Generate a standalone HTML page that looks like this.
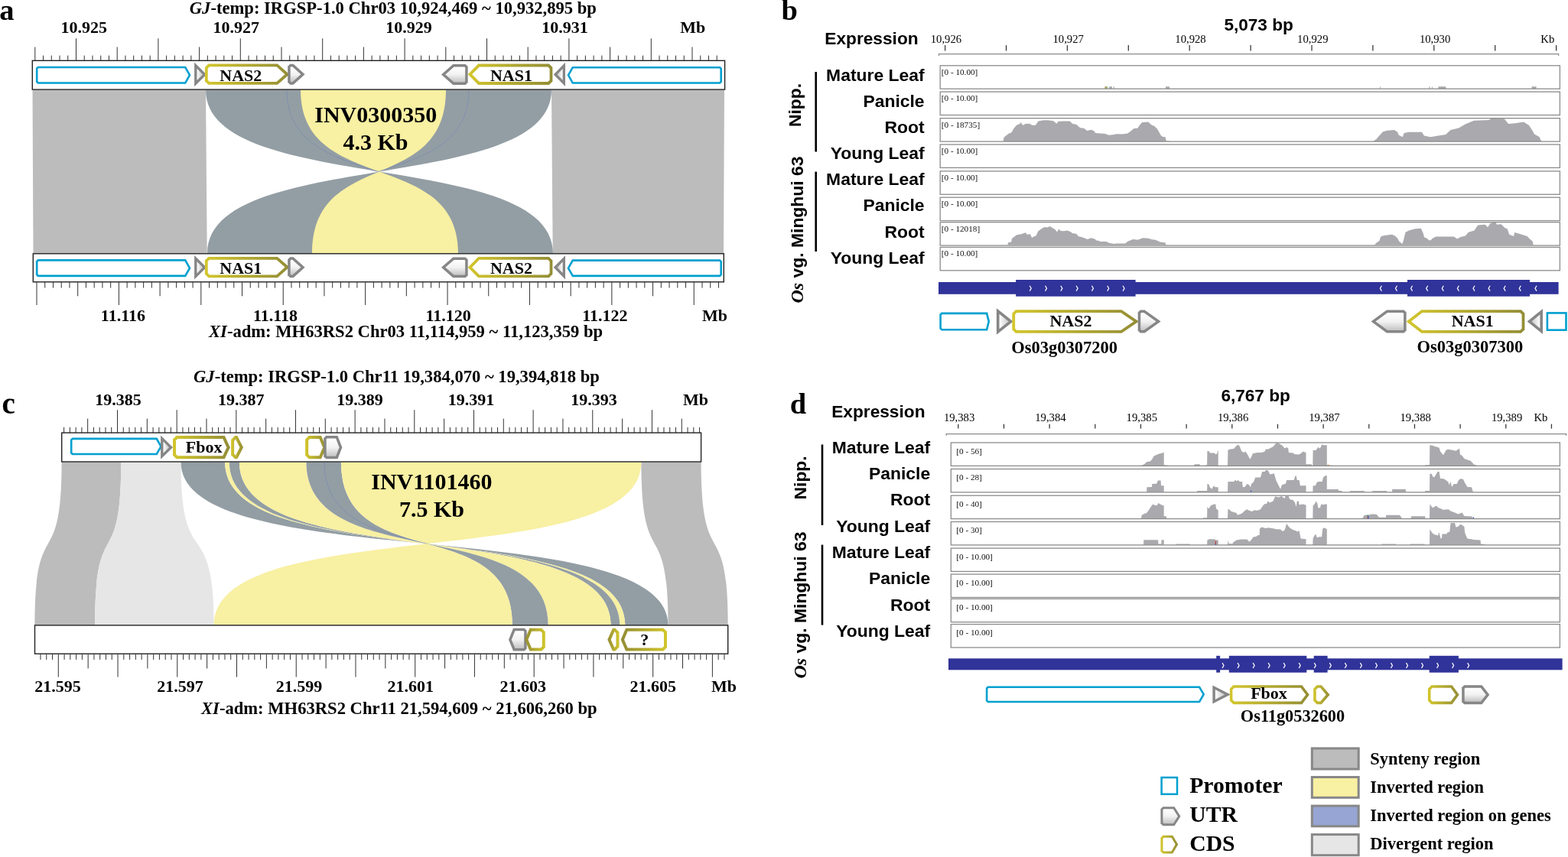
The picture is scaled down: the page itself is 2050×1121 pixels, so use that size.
<!DOCTYPE html>
<html><head><meta charset="utf-8"><title>Figure</title><style>html,body{margin:0;padding:0;background:#fff;overflow:hidden}svg{display:block}</style></head><body>
<svg width="2050" height="1121" viewBox="0 0 2050 1121">
<defs>
<linearGradient id="gC" x1="0" y1="0" x2="1" y2="0"><stop offset="0" stop-color="#d3c62c"/><stop offset="1" stop-color="#938d36"/></linearGradient>
<linearGradient id="gCL" x1="0" y1="0" x2="1" y2="0"><stop offset="0" stop-color="#d3c62c"/><stop offset="1" stop-color="#938d36"/></linearGradient>
<linearGradient id="gCR" x1="0" y1="0" x2="1" y2="0"><stop offset="0" stop-color="#938d36"/><stop offset="1" stop-color="#d3c62c"/></linearGradient>
<linearGradient id="gCRL" x1="0" y1="0" x2="1" y2="0"><stop offset="0" stop-color="#938d36"/><stop offset="1" stop-color="#d3c62c"/></linearGradient>
<linearGradient id="gTr" x1="0" y1="0" x2="1" y2="0"><stop offset="0" stop-color="#ffffff"/><stop offset="1" stop-color="#c8c8c8"/></linearGradient>
<linearGradient id="gTl" x1="1" y1="0" x2="0" y2="0"><stop offset="0" stop-color="#ffffff"/><stop offset="1" stop-color="#c8c8c8"/></linearGradient>
<linearGradient id="gV" x1="0" y1="0" x2="0" y2="1"><stop offset="0" stop-color="#ffffff"/><stop offset="0.5" stop-color="#f2f2f2"/><stop offset="1" stop-color="#c4c4c4"/></linearGradient>
</defs>
<rect x="0.00" y="0.00" width="2050.00" height="1121.00" fill="#fff" stroke="none" stroke-width="1" />
<text x="-0.8" y="25.6" font-family="'Liberation Serif','Times New Roman',serif" font-size="38.5" font-weight="bold" text-anchor="start" fill="#000" >a</text>
<text x="247.8" y="17.8" font-family="'Liberation Serif','Times New Roman',serif" font-size="22.6" font-weight="bold" text-anchor="start" fill="#000" ><tspan font-style="italic">GJ</tspan>-temp: IRGSP-1.0 Chr03 10,924,469 ~ 10,932,895 bp</text>
<text x="109.8" y="42.7" font-family="'Liberation Serif','Times New Roman',serif" font-size="22" font-weight="bold" text-anchor="middle" fill="#000" >10.925</text>
<text x="308.8" y="42.7" font-family="'Liberation Serif','Times New Roman',serif" font-size="22" font-weight="bold" text-anchor="middle" fill="#000" >10.927</text>
<text x="534.4" y="42.7" font-family="'Liberation Serif','Times New Roman',serif" font-size="22" font-weight="bold" text-anchor="middle" fill="#000" >10.929</text>
<text x="738.4" y="42.7" font-family="'Liberation Serif','Times New Roman',serif" font-size="22" font-weight="bold" text-anchor="middle" fill="#000" >10.931</text>
<text x="905.7" y="42.7" font-family="'Liberation Serif','Times New Roman',serif" font-size="22" font-weight="bold" text-anchor="middle" fill="#000" >Mb</text>
<polygon points="42.50,117.50 269.00,117.50 270.70,331.50 43.50,331.50" fill="#bcbcbc" stroke="none" stroke-width="1" />
<polygon points="721.00,117.50 947.00,117.50 946.00,331.50 722.70,331.50" fill="#bcbcbc" stroke="none" stroke-width="1" />
<path d="M269.00,117.5 L721.00,117.5 C721.00,256.60 271.00,192.40 271.00,331.5 L723.00,331.5 C723.00,192.40 269.00,256.60 269.00,117.5 Z" fill="#939ea4" />
<path d="M393.00,117.5 L583.00,117.5 C583.00,256.60 408.00,192.40 408.00,331.5 L599.00,331.5 C599.00,192.40 393.00,256.60 393.00,117.5 Z" fill="#f8f0a2" />
<path d="M375.00,117.50 C375.00,187.05 434.50,205.78 494.00,224.50" fill="none" stroke="#6f82b8" stroke-width="0.7" opacity="0.75"/>
<path d="M613.00,117.50 C613.00,187.05 553.50,205.78 494.00,224.50" fill="none" stroke="#6f82b8" stroke-width="0.7" opacity="0.75"/>
<text x="491.3" y="160.0" font-family="'Liberation Serif','Times New Roman',serif" font-size="30" font-weight="bold" text-anchor="middle" fill="#000" >INV0300350</text>
<text x="491.0" y="196.0" font-family="'Liberation Serif','Times New Roman',serif" font-size="30" font-weight="bold" text-anchor="middle" fill="#000" >4.3 Kb</text>
<line x1="45.80" y1="79.20" x2="45.80" y2="61.50" stroke="#333" stroke-width="1.0"/>
<line x1="56.54" y1="79.20" x2="56.54" y2="72.60" stroke="#333" stroke-width="1.0"/>
<line x1="67.28" y1="79.20" x2="67.28" y2="72.60" stroke="#333" stroke-width="1.0"/>
<line x1="78.02" y1="79.20" x2="78.02" y2="72.60" stroke="#333" stroke-width="1.0"/>
<line x1="88.76" y1="79.20" x2="88.76" y2="72.60" stroke="#333" stroke-width="1.0"/>
<line x1="99.50" y1="79.20" x2="99.50" y2="50.30" stroke="#333" stroke-width="1.0"/>
<line x1="110.24" y1="79.20" x2="110.24" y2="72.60" stroke="#333" stroke-width="1.0"/>
<line x1="120.98" y1="79.20" x2="120.98" y2="72.60" stroke="#333" stroke-width="1.0"/>
<line x1="131.72" y1="79.20" x2="131.72" y2="72.60" stroke="#333" stroke-width="1.0"/>
<line x1="142.46" y1="79.20" x2="142.46" y2="72.60" stroke="#333" stroke-width="1.0"/>
<line x1="153.20" y1="79.20" x2="153.20" y2="61.50" stroke="#333" stroke-width="1.0"/>
<line x1="163.94" y1="79.20" x2="163.94" y2="72.60" stroke="#333" stroke-width="1.0"/>
<line x1="174.68" y1="79.20" x2="174.68" y2="72.60" stroke="#333" stroke-width="1.0"/>
<line x1="185.42" y1="79.20" x2="185.42" y2="72.60" stroke="#333" stroke-width="1.0"/>
<line x1="196.16" y1="79.20" x2="196.16" y2="72.60" stroke="#333" stroke-width="1.0"/>
<line x1="206.90" y1="79.20" x2="206.90" y2="50.30" stroke="#333" stroke-width="1.0"/>
<line x1="217.64" y1="79.20" x2="217.64" y2="72.60" stroke="#333" stroke-width="1.0"/>
<line x1="228.38" y1="79.20" x2="228.38" y2="72.60" stroke="#333" stroke-width="1.0"/>
<line x1="239.12" y1="79.20" x2="239.12" y2="72.60" stroke="#333" stroke-width="1.0"/>
<line x1="249.86" y1="79.20" x2="249.86" y2="72.60" stroke="#333" stroke-width="1.0"/>
<line x1="260.60" y1="79.20" x2="260.60" y2="61.50" stroke="#333" stroke-width="1.0"/>
<line x1="271.34" y1="79.20" x2="271.34" y2="72.60" stroke="#333" stroke-width="1.0"/>
<line x1="282.08" y1="79.20" x2="282.08" y2="72.60" stroke="#333" stroke-width="1.0"/>
<line x1="292.82" y1="79.20" x2="292.82" y2="72.60" stroke="#333" stroke-width="1.0"/>
<line x1="303.56" y1="79.20" x2="303.56" y2="72.60" stroke="#333" stroke-width="1.0"/>
<line x1="314.30" y1="79.20" x2="314.30" y2="50.30" stroke="#333" stroke-width="1.0"/>
<line x1="325.04" y1="79.20" x2="325.04" y2="72.60" stroke="#333" stroke-width="1.0"/>
<line x1="335.78" y1="79.20" x2="335.78" y2="72.60" stroke="#333" stroke-width="1.0"/>
<line x1="346.52" y1="79.20" x2="346.52" y2="72.60" stroke="#333" stroke-width="1.0"/>
<line x1="357.26" y1="79.20" x2="357.26" y2="72.60" stroke="#333" stroke-width="1.0"/>
<line x1="368.00" y1="79.20" x2="368.00" y2="61.50" stroke="#333" stroke-width="1.0"/>
<line x1="378.74" y1="79.20" x2="378.74" y2="72.60" stroke="#333" stroke-width="1.0"/>
<line x1="389.48" y1="79.20" x2="389.48" y2="72.60" stroke="#333" stroke-width="1.0"/>
<line x1="400.22" y1="79.20" x2="400.22" y2="72.60" stroke="#333" stroke-width="1.0"/>
<line x1="410.96" y1="79.20" x2="410.96" y2="72.60" stroke="#333" stroke-width="1.0"/>
<line x1="421.70" y1="79.20" x2="421.70" y2="50.30" stroke="#333" stroke-width="1.0"/>
<line x1="432.44" y1="79.20" x2="432.44" y2="72.60" stroke="#333" stroke-width="1.0"/>
<line x1="443.18" y1="79.20" x2="443.18" y2="72.60" stroke="#333" stroke-width="1.0"/>
<line x1="453.92" y1="79.20" x2="453.92" y2="72.60" stroke="#333" stroke-width="1.0"/>
<line x1="464.66" y1="79.20" x2="464.66" y2="72.60" stroke="#333" stroke-width="1.0"/>
<line x1="475.40" y1="79.20" x2="475.40" y2="61.50" stroke="#333" stroke-width="1.0"/>
<line x1="486.14" y1="79.20" x2="486.14" y2="72.60" stroke="#333" stroke-width="1.0"/>
<line x1="496.88" y1="79.20" x2="496.88" y2="72.60" stroke="#333" stroke-width="1.0"/>
<line x1="507.62" y1="79.20" x2="507.62" y2="72.60" stroke="#333" stroke-width="1.0"/>
<line x1="518.36" y1="79.20" x2="518.36" y2="72.60" stroke="#333" stroke-width="1.0"/>
<line x1="529.10" y1="79.20" x2="529.10" y2="50.30" stroke="#333" stroke-width="1.0"/>
<line x1="539.84" y1="79.20" x2="539.84" y2="72.60" stroke="#333" stroke-width="1.0"/>
<line x1="550.58" y1="79.20" x2="550.58" y2="72.60" stroke="#333" stroke-width="1.0"/>
<line x1="561.32" y1="79.20" x2="561.32" y2="72.60" stroke="#333" stroke-width="1.0"/>
<line x1="572.06" y1="79.20" x2="572.06" y2="72.60" stroke="#333" stroke-width="1.0"/>
<line x1="582.80" y1="79.20" x2="582.80" y2="61.50" stroke="#333" stroke-width="1.0"/>
<line x1="593.54" y1="79.20" x2="593.54" y2="72.60" stroke="#333" stroke-width="1.0"/>
<line x1="604.28" y1="79.20" x2="604.28" y2="72.60" stroke="#333" stroke-width="1.0"/>
<line x1="615.02" y1="79.20" x2="615.02" y2="72.60" stroke="#333" stroke-width="1.0"/>
<line x1="625.76" y1="79.20" x2="625.76" y2="72.60" stroke="#333" stroke-width="1.0"/>
<line x1="636.50" y1="79.20" x2="636.50" y2="50.30" stroke="#333" stroke-width="1.0"/>
<line x1="647.24" y1="79.20" x2="647.24" y2="72.60" stroke="#333" stroke-width="1.0"/>
<line x1="657.98" y1="79.20" x2="657.98" y2="72.60" stroke="#333" stroke-width="1.0"/>
<line x1="668.72" y1="79.20" x2="668.72" y2="72.60" stroke="#333" stroke-width="1.0"/>
<line x1="679.46" y1="79.20" x2="679.46" y2="72.60" stroke="#333" stroke-width="1.0"/>
<line x1="690.20" y1="79.20" x2="690.20" y2="61.50" stroke="#333" stroke-width="1.0"/>
<line x1="700.94" y1="79.20" x2="700.94" y2="72.60" stroke="#333" stroke-width="1.0"/>
<line x1="711.68" y1="79.20" x2="711.68" y2="72.60" stroke="#333" stroke-width="1.0"/>
<line x1="722.42" y1="79.20" x2="722.42" y2="72.60" stroke="#333" stroke-width="1.0"/>
<line x1="733.16" y1="79.20" x2="733.16" y2="72.60" stroke="#333" stroke-width="1.0"/>
<line x1="743.90" y1="79.20" x2="743.90" y2="50.30" stroke="#333" stroke-width="1.0"/>
<line x1="754.64" y1="79.20" x2="754.64" y2="72.60" stroke="#333" stroke-width="1.0"/>
<line x1="765.38" y1="79.20" x2="765.38" y2="72.60" stroke="#333" stroke-width="1.0"/>
<line x1="776.12" y1="79.20" x2="776.12" y2="72.60" stroke="#333" stroke-width="1.0"/>
<line x1="786.86" y1="79.20" x2="786.86" y2="72.60" stroke="#333" stroke-width="1.0"/>
<line x1="797.60" y1="79.20" x2="797.60" y2="61.50" stroke="#333" stroke-width="1.0"/>
<line x1="808.34" y1="79.20" x2="808.34" y2="72.60" stroke="#333" stroke-width="1.0"/>
<line x1="819.08" y1="79.20" x2="819.08" y2="72.60" stroke="#333" stroke-width="1.0"/>
<line x1="829.82" y1="79.20" x2="829.82" y2="72.60" stroke="#333" stroke-width="1.0"/>
<line x1="840.56" y1="79.20" x2="840.56" y2="72.60" stroke="#333" stroke-width="1.0"/>
<line x1="851.30" y1="79.20" x2="851.30" y2="50.30" stroke="#333" stroke-width="1.0"/>
<line x1="862.04" y1="79.20" x2="862.04" y2="72.60" stroke="#333" stroke-width="1.0"/>
<line x1="872.78" y1="79.20" x2="872.78" y2="72.60" stroke="#333" stroke-width="1.0"/>
<line x1="883.52" y1="79.20" x2="883.52" y2="72.60" stroke="#333" stroke-width="1.0"/>
<line x1="894.26" y1="79.20" x2="894.26" y2="72.60" stroke="#333" stroke-width="1.0"/>
<line x1="905.00" y1="79.20" x2="905.00" y2="61.50" stroke="#333" stroke-width="1.0"/>
<line x1="915.74" y1="79.20" x2="915.74" y2="72.60" stroke="#333" stroke-width="1.0"/>
<line x1="926.48" y1="79.20" x2="926.48" y2="72.60" stroke="#333" stroke-width="1.0"/>
<line x1="937.22" y1="79.20" x2="937.22" y2="72.60" stroke="#333" stroke-width="1.0"/>
<rect x="42.30" y="79.30" width="905.30" height="37.80" fill="none" stroke="#222" stroke-width="1.4" />
<polygon points="49.30,86.70 243.00,86.70 249.50,98.25 243.00,109.80 49.30,109.80 46.90,107.40 46.90,89.10" fill="#00a0d0" stroke="none" stroke-width="1" />
<polygon points="50.38,89.30 241.48,89.30 246.52,98.25 241.48,107.20 50.38,107.20 49.50,106.32 49.50,90.18" fill="#fff" stroke="none" stroke-width="1" />
<polygon points="254.10,81.60 270.00,97.40 254.10,113.20" fill="#868686" stroke="none" stroke-width="1" />
<polygon points="257.50,89.77 265.18,97.40 257.50,105.03" fill="url(#gTr)" stroke="none" stroke-width="1" />
<polygon points="272.40,83.50 362.90,83.50 378.40,97.15 362.90,110.80 272.40,110.80 267.90,106.30 267.90,88.00" fill="url(#gC)" stroke="none" stroke-width="1" />
<polygon points="273.97,87.30 361.47,87.30 372.65,97.15 361.47,107.00 273.97,107.00 271.70,104.73 271.70,89.57" fill="#fff" stroke="none" stroke-width="1" />
<text x="314.8" y="105.8" font-family="'Liberation Serif','Times New Roman',serif" font-size="22" font-weight="bold" text-anchor="middle" fill="#000" >NAS2</text>
<polygon points="379.20,83.80 383.60,83.80 398.60,97.30 383.60,110.80 379.20,110.80 376.20,107.80 376.20,86.80" fill="#868686" stroke="none" stroke-width="1" />
<polygon points="380.65,87.30 382.26,87.30 393.37,97.30 382.26,107.30 380.65,107.30 379.70,106.35 379.70,88.25" fill="url(#gV)" stroke="none" stroke-width="1" />
<polygon points="608.70,84.00 592.20,84.00 577.00,97.45 592.20,110.90 608.70,110.90 611.70,107.90 611.70,87.00" fill="#868686" stroke="none" stroke-width="1" />
<polygon points="607.25,87.50 593.53,87.50 582.28,97.45 593.53,107.40 607.25,107.40 608.20,106.45 608.20,88.45" fill="url(#gV)" stroke="none" stroke-width="1" />
<polygon points="717.90,83.60 625.20,83.60 611.70,97.25 625.20,110.90 717.90,110.90 722.40,106.40 722.40,88.10" fill="url(#gC)" stroke="none" stroke-width="1" />
<polygon points="716.33,87.40 626.79,87.40 617.04,97.25 626.79,107.10 716.33,107.10 718.60,104.83 718.60,89.67" fill="#fff" stroke="none" stroke-width="1" />
<text x="668.5" y="105.8" font-family="'Liberation Serif','Times New Roman',serif" font-size="22" font-weight="bold" text-anchor="middle" fill="#000" >NAS1</text>
<polygon points="739.00,81.80 723.70,97.40 739.00,113.00" fill="#868686" stroke="none" stroke-width="1" />
<polygon points="735.60,90.12 728.46,97.40 735.60,104.68" fill="url(#gTl)" stroke="none" stroke-width="1" />
<polygon points="941.60,86.90 748.00,86.90 741.50,98.35 748.00,109.80 941.60,109.80 944.00,107.40 944.00,89.30" fill="#00a0d0" stroke="none" stroke-width="1" />
<polygon points="940.52,89.50 749.51,89.50 744.49,98.35 749.51,107.20 940.52,107.20 941.40,106.32 941.40,90.38" fill="#fff" stroke="none" stroke-width="1" />
<rect x="43.30" y="331.80" width="903.00" height="37.00" fill="none" stroke="#222" stroke-width="1.4" />
<polygon points="49.30,339.10 243.00,339.10 249.50,350.65 243.00,362.20 49.30,362.20 46.90,359.80 46.90,341.50" fill="#00a0d0" stroke="none" stroke-width="1" />
<polygon points="50.38,341.70 241.48,341.70 246.52,350.65 241.48,359.60 50.38,359.60 49.50,358.72 49.50,342.58" fill="#fff" stroke="none" stroke-width="1" />
<polygon points="254.10,334.00 270.00,349.80 254.10,365.60" fill="#868686" stroke="none" stroke-width="1" />
<polygon points="257.50,342.17 265.18,349.80 257.50,357.43" fill="url(#gTr)" stroke="none" stroke-width="1" />
<polygon points="272.40,335.90 362.90,335.90 378.40,349.55 362.90,363.20 272.40,363.20 267.90,358.70 267.90,340.40" fill="url(#gC)" stroke="none" stroke-width="1" />
<polygon points="273.97,339.70 361.47,339.70 372.65,349.55 361.47,359.40 273.97,359.40 271.70,357.13 271.70,341.97" fill="#fff" stroke="none" stroke-width="1" />
<text x="314.8" y="358.2" font-family="'Liberation Serif','Times New Roman',serif" font-size="22" font-weight="bold" text-anchor="middle" fill="#000" >NAS1</text>
<polygon points="379.20,336.20 383.60,336.20 398.60,349.70 383.60,363.20 379.20,363.20 376.20,360.20 376.20,339.20" fill="#868686" stroke="none" stroke-width="1" />
<polygon points="380.65,339.70 382.26,339.70 393.37,349.70 382.26,359.70 380.65,359.70 379.70,358.75 379.70,340.65" fill="url(#gV)" stroke="none" stroke-width="1" />
<polygon points="608.70,336.40 592.20,336.40 577.00,349.85 592.20,363.30 608.70,363.30 611.70,360.30 611.70,339.40" fill="#868686" stroke="none" stroke-width="1" />
<polygon points="607.25,339.90 593.53,339.90 582.28,349.85 593.53,359.80 607.25,359.80 608.20,358.85 608.20,340.85" fill="url(#gV)" stroke="none" stroke-width="1" />
<polygon points="717.90,336.00 625.20,336.00 611.70,349.65 625.20,363.30 717.90,363.30 722.40,358.80 722.40,340.50" fill="url(#gC)" stroke="none" stroke-width="1" />
<polygon points="716.33,339.80 626.79,339.80 617.04,349.65 626.79,359.50 716.33,359.50 718.60,357.23 718.60,342.07" fill="#fff" stroke="none" stroke-width="1" />
<text x="668.5" y="358.2" font-family="'Liberation Serif','Times New Roman',serif" font-size="22" font-weight="bold" text-anchor="middle" fill="#000" >NAS2</text>
<polygon points="739.00,334.20 723.70,349.80 739.00,365.40" fill="#868686" stroke="none" stroke-width="1" />
<polygon points="735.60,342.52 728.46,349.80 735.60,357.08" fill="url(#gTl)" stroke="none" stroke-width="1" />
<polygon points="941.60,339.30 748.00,339.30 741.50,350.75 748.00,362.20 941.60,362.20 944.00,359.80 944.00,341.70" fill="#00a0d0" stroke="none" stroke-width="1" />
<polygon points="940.52,341.90 749.51,341.90 744.49,350.75 749.51,359.60 940.52,359.60 941.40,358.72 941.40,342.78" fill="#fff" stroke="none" stroke-width="1" />
<line x1="48.00" y1="368.80" x2="48.00" y2="399.00" stroke="#333" stroke-width="1.0"/>
<line x1="58.74" y1="368.80" x2="58.74" y2="376.60" stroke="#333" stroke-width="1.0"/>
<line x1="69.48" y1="368.80" x2="69.48" y2="376.60" stroke="#333" stroke-width="1.0"/>
<line x1="80.22" y1="368.80" x2="80.22" y2="376.60" stroke="#333" stroke-width="1.0"/>
<line x1="90.96" y1="368.80" x2="90.96" y2="376.60" stroke="#333" stroke-width="1.0"/>
<line x1="101.70" y1="368.80" x2="101.70" y2="387.30" stroke="#333" stroke-width="1.0"/>
<line x1="112.45" y1="368.80" x2="112.45" y2="376.60" stroke="#333" stroke-width="1.0"/>
<line x1="123.19" y1="368.80" x2="123.19" y2="376.60" stroke="#333" stroke-width="1.0"/>
<line x1="133.93" y1="368.80" x2="133.93" y2="376.60" stroke="#333" stroke-width="1.0"/>
<line x1="144.67" y1="368.80" x2="144.67" y2="376.60" stroke="#333" stroke-width="1.0"/>
<line x1="155.41" y1="368.80" x2="155.41" y2="399.00" stroke="#333" stroke-width="1.0"/>
<line x1="166.15" y1="368.80" x2="166.15" y2="376.60" stroke="#333" stroke-width="1.0"/>
<line x1="176.89" y1="368.80" x2="176.89" y2="376.60" stroke="#333" stroke-width="1.0"/>
<line x1="187.63" y1="368.80" x2="187.63" y2="376.60" stroke="#333" stroke-width="1.0"/>
<line x1="198.37" y1="368.80" x2="198.37" y2="376.60" stroke="#333" stroke-width="1.0"/>
<line x1="209.12" y1="368.80" x2="209.12" y2="387.30" stroke="#333" stroke-width="1.0"/>
<line x1="219.86" y1="368.80" x2="219.86" y2="376.60" stroke="#333" stroke-width="1.0"/>
<line x1="230.60" y1="368.80" x2="230.60" y2="376.60" stroke="#333" stroke-width="1.0"/>
<line x1="241.34" y1="368.80" x2="241.34" y2="376.60" stroke="#333" stroke-width="1.0"/>
<line x1="252.08" y1="368.80" x2="252.08" y2="376.60" stroke="#333" stroke-width="1.0"/>
<line x1="262.82" y1="368.80" x2="262.82" y2="399.00" stroke="#333" stroke-width="1.0"/>
<line x1="273.56" y1="368.80" x2="273.56" y2="376.60" stroke="#333" stroke-width="1.0"/>
<line x1="284.30" y1="368.80" x2="284.30" y2="376.60" stroke="#333" stroke-width="1.0"/>
<line x1="295.04" y1="368.80" x2="295.04" y2="376.60" stroke="#333" stroke-width="1.0"/>
<line x1="305.78" y1="368.80" x2="305.78" y2="376.60" stroke="#333" stroke-width="1.0"/>
<line x1="316.52" y1="368.80" x2="316.52" y2="387.30" stroke="#333" stroke-width="1.0"/>
<line x1="327.27" y1="368.80" x2="327.27" y2="376.60" stroke="#333" stroke-width="1.0"/>
<line x1="338.01" y1="368.80" x2="338.01" y2="376.60" stroke="#333" stroke-width="1.0"/>
<line x1="348.75" y1="368.80" x2="348.75" y2="376.60" stroke="#333" stroke-width="1.0"/>
<line x1="359.49" y1="368.80" x2="359.49" y2="376.60" stroke="#333" stroke-width="1.0"/>
<line x1="370.23" y1="368.80" x2="370.23" y2="399.00" stroke="#333" stroke-width="1.0"/>
<line x1="380.97" y1="368.80" x2="380.97" y2="376.60" stroke="#333" stroke-width="1.0"/>
<line x1="391.71" y1="368.80" x2="391.71" y2="376.60" stroke="#333" stroke-width="1.0"/>
<line x1="402.45" y1="368.80" x2="402.45" y2="376.60" stroke="#333" stroke-width="1.0"/>
<line x1="413.19" y1="368.80" x2="413.19" y2="376.60" stroke="#333" stroke-width="1.0"/>
<line x1="423.94" y1="368.80" x2="423.94" y2="387.30" stroke="#333" stroke-width="1.0"/>
<line x1="434.68" y1="368.80" x2="434.68" y2="376.60" stroke="#333" stroke-width="1.0"/>
<line x1="445.42" y1="368.80" x2="445.42" y2="376.60" stroke="#333" stroke-width="1.0"/>
<line x1="456.16" y1="368.80" x2="456.16" y2="376.60" stroke="#333" stroke-width="1.0"/>
<line x1="466.90" y1="368.80" x2="466.90" y2="376.60" stroke="#333" stroke-width="1.0"/>
<line x1="477.64" y1="368.80" x2="477.64" y2="399.00" stroke="#333" stroke-width="1.0"/>
<line x1="488.38" y1="368.80" x2="488.38" y2="376.60" stroke="#333" stroke-width="1.0"/>
<line x1="499.12" y1="368.80" x2="499.12" y2="376.60" stroke="#333" stroke-width="1.0"/>
<line x1="509.86" y1="368.80" x2="509.86" y2="376.60" stroke="#333" stroke-width="1.0"/>
<line x1="520.60" y1="368.80" x2="520.60" y2="376.60" stroke="#333" stroke-width="1.0"/>
<line x1="531.35" y1="368.80" x2="531.35" y2="387.30" stroke="#333" stroke-width="1.0"/>
<line x1="542.09" y1="368.80" x2="542.09" y2="376.60" stroke="#333" stroke-width="1.0"/>
<line x1="552.83" y1="368.80" x2="552.83" y2="376.60" stroke="#333" stroke-width="1.0"/>
<line x1="563.57" y1="368.80" x2="563.57" y2="376.60" stroke="#333" stroke-width="1.0"/>
<line x1="574.31" y1="368.80" x2="574.31" y2="376.60" stroke="#333" stroke-width="1.0"/>
<line x1="585.05" y1="368.80" x2="585.05" y2="399.00" stroke="#333" stroke-width="1.0"/>
<line x1="595.79" y1="368.80" x2="595.79" y2="376.60" stroke="#333" stroke-width="1.0"/>
<line x1="606.53" y1="368.80" x2="606.53" y2="376.60" stroke="#333" stroke-width="1.0"/>
<line x1="617.27" y1="368.80" x2="617.27" y2="376.60" stroke="#333" stroke-width="1.0"/>
<line x1="628.01" y1="368.80" x2="628.01" y2="376.60" stroke="#333" stroke-width="1.0"/>
<line x1="638.75" y1="368.80" x2="638.75" y2="387.30" stroke="#333" stroke-width="1.0"/>
<line x1="649.50" y1="368.80" x2="649.50" y2="376.60" stroke="#333" stroke-width="1.0"/>
<line x1="660.24" y1="368.80" x2="660.24" y2="376.60" stroke="#333" stroke-width="1.0"/>
<line x1="670.98" y1="368.80" x2="670.98" y2="376.60" stroke="#333" stroke-width="1.0"/>
<line x1="681.72" y1="368.80" x2="681.72" y2="376.60" stroke="#333" stroke-width="1.0"/>
<line x1="692.46" y1="368.80" x2="692.46" y2="399.00" stroke="#333" stroke-width="1.0"/>
<line x1="703.20" y1="368.80" x2="703.20" y2="376.60" stroke="#333" stroke-width="1.0"/>
<line x1="713.94" y1="368.80" x2="713.94" y2="376.60" stroke="#333" stroke-width="1.0"/>
<line x1="724.68" y1="368.80" x2="724.68" y2="376.60" stroke="#333" stroke-width="1.0"/>
<line x1="735.42" y1="368.80" x2="735.42" y2="376.60" stroke="#333" stroke-width="1.0"/>
<line x1="746.16" y1="368.80" x2="746.16" y2="387.30" stroke="#333" stroke-width="1.0"/>
<line x1="756.91" y1="368.80" x2="756.91" y2="376.60" stroke="#333" stroke-width="1.0"/>
<line x1="767.65" y1="368.80" x2="767.65" y2="376.60" stroke="#333" stroke-width="1.0"/>
<line x1="778.39" y1="368.80" x2="778.39" y2="376.60" stroke="#333" stroke-width="1.0"/>
<line x1="789.13" y1="368.80" x2="789.13" y2="376.60" stroke="#333" stroke-width="1.0"/>
<line x1="799.87" y1="368.80" x2="799.87" y2="399.00" stroke="#333" stroke-width="1.0"/>
<line x1="810.61" y1="368.80" x2="810.61" y2="376.60" stroke="#333" stroke-width="1.0"/>
<line x1="821.35" y1="368.80" x2="821.35" y2="376.60" stroke="#333" stroke-width="1.0"/>
<line x1="832.09" y1="368.80" x2="832.09" y2="376.60" stroke="#333" stroke-width="1.0"/>
<line x1="842.83" y1="368.80" x2="842.83" y2="376.60" stroke="#333" stroke-width="1.0"/>
<line x1="853.57" y1="368.80" x2="853.57" y2="387.30" stroke="#333" stroke-width="1.0"/>
<line x1="864.32" y1="368.80" x2="864.32" y2="376.60" stroke="#333" stroke-width="1.0"/>
<line x1="875.06" y1="368.80" x2="875.06" y2="376.60" stroke="#333" stroke-width="1.0"/>
<line x1="885.80" y1="368.80" x2="885.80" y2="376.60" stroke="#333" stroke-width="1.0"/>
<line x1="896.54" y1="368.80" x2="896.54" y2="376.60" stroke="#333" stroke-width="1.0"/>
<line x1="907.28" y1="368.80" x2="907.28" y2="399.00" stroke="#333" stroke-width="1.0"/>
<line x1="918.02" y1="368.80" x2="918.02" y2="376.60" stroke="#333" stroke-width="1.0"/>
<line x1="928.76" y1="368.80" x2="928.76" y2="376.60" stroke="#333" stroke-width="1.0"/>
<line x1="939.50" y1="368.80" x2="939.50" y2="376.60" stroke="#333" stroke-width="1.0"/>
<text x="160.9" y="420.0" font-family="'Liberation Serif','Times New Roman',serif" font-size="22" font-weight="bold" text-anchor="middle" fill="#000" >11.116</text>
<text x="360.0" y="420.0" font-family="'Liberation Serif','Times New Roman',serif" font-size="22" font-weight="bold" text-anchor="middle" fill="#000" >11.118</text>
<text x="586.2" y="420.0" font-family="'Liberation Serif','Times New Roman',serif" font-size="22" font-weight="bold" text-anchor="middle" fill="#000" >11.120</text>
<text x="790.9" y="420.0" font-family="'Liberation Serif','Times New Roman',serif" font-size="22" font-weight="bold" text-anchor="middle" fill="#000" >11.122</text>
<text x="934.4" y="420.0" font-family="'Liberation Serif','Times New Roman',serif" font-size="22" font-weight="bold" text-anchor="middle" fill="#000" >Mb</text>
<text x="273.0" y="441.0" font-family="'Liberation Serif','Times New Roman',serif" font-size="22.6" font-weight="bold" text-anchor="start" fill="#000" ><tspan font-style="italic">XI</tspan>-adm: MH63RS2 Chr03 11,114,959 ~ 11,123,359 bp</text>
<text x="2.6" y="540.8" font-family="'Liberation Serif','Times New Roman',serif" font-size="39" font-weight="bold" text-anchor="start" fill="#000" >c</text>
<text x="253.0" y="500.4" font-family="'Liberation Serif','Times New Roman',serif" font-size="22.6" font-weight="bold" text-anchor="start" fill="#000" ><tspan font-style="italic">GJ</tspan>-temp: IRGSP-1.0 Chr11 19,384,070 ~ 19,394,818 bp</text>
<text x="154.5" y="529.5" font-family="'Liberation Serif','Times New Roman',serif" font-size="22" font-weight="bold" text-anchor="middle" fill="#000" >19.385</text>
<text x="315.2" y="529.5" font-family="'Liberation Serif','Times New Roman',serif" font-size="22" font-weight="bold" text-anchor="middle" fill="#000" >19.387</text>
<text x="470.5" y="529.5" font-family="'Liberation Serif','Times New Roman',serif" font-size="22" font-weight="bold" text-anchor="middle" fill="#000" >19.389</text>
<text x="616.0" y="529.5" font-family="'Liberation Serif','Times New Roman',serif" font-size="22" font-weight="bold" text-anchor="middle" fill="#000" >19.391</text>
<text x="776.5" y="529.5" font-family="'Liberation Serif','Times New Roman',serif" font-size="22" font-weight="bold" text-anchor="middle" fill="#000" >19.393</text>
<text x="909.4" y="529.5" font-family="'Liberation Serif','Times New Roman',serif" font-size="22" font-weight="bold" text-anchor="middle" fill="#000" >Mb</text>
<path d="M80.60,604.5 L158.30,604.5 C158.30,753.81 124.10,668.49 124.10,817.8 L45.40,817.8 C45.40,668.49 80.60,753.81 80.60,604.5 Z" fill="#bcbcbc" />
<path d="M158.30,604.5 L236.50,604.5 C236.50,753.81 279.60,668.49 279.60,817.8 L124.10,817.8 C124.10,668.49 158.30,753.81 158.30,604.5 Z" fill="#e6e6e6" />
<path d="M838.40,604.5 L916.60,604.5 C916.60,753.81 951.70,668.49 951.70,817.8 L873.50,817.8 C873.50,668.49 838.40,753.81 838.40,604.5 Z" fill="#bcbcbc" />
<path d="M236.50,604.5 L294.10,604.5 C294.10,753.81 817.30,668.49 817.30,817.8 L873.50,817.8 C873.50,668.49 236.50,753.81 236.50,604.5 Z" fill="#939ea4" />
<path d="M294.10,604.5 L299.80,604.5 C299.80,753.81 810.30,668.49 810.30,817.8 L817.30,817.8 C817.30,668.49 294.10,753.81 294.10,604.5 Z" fill="#f8f0a2" />
<path d="M299.80,604.5 L312.90,604.5 C312.90,753.81 798.60,668.49 798.60,817.8 L810.30,817.8 C810.30,668.49 299.80,753.81 299.80,604.5 Z" fill="#939ea4" />
<path d="M312.90,604.5 L400.50,604.5 C400.50,753.81 716.60,668.49 716.60,817.8 L798.60,817.8 C798.60,668.49 312.90,753.81 312.90,604.5 Z" fill="#f8f0a2" />
<path d="M400.50,604.5 L445.90,604.5 C445.90,753.81 669.80,668.49 669.80,817.8 L716.60,817.8 C716.60,668.49 400.50,753.81 400.50,604.5 Z" fill="#939ea4" />
<path d="M445.90,604.5 L838.40,604.5 C838.40,753.81 279.60,668.49 279.60,817.8 L669.80,817.8 C669.80,668.49 445.90,753.81 445.90,604.5 Z" fill="#f8f0a2" />
<path d="M424.00,604.50 C424.00,679.15 491.25,695.15 558.50,711.15" fill="none" stroke="#6f82b8" stroke-width="0.7" opacity="0.75"/>
<text x="564.4" y="639.6" font-family="'Liberation Serif','Times New Roman',serif" font-size="30" font-weight="bold" text-anchor="middle" fill="#000" >INV1101460</text>
<text x="564.4" y="676.0" font-family="'Liberation Serif','Times New Roman',serif" font-size="30" font-weight="bold" text-anchor="middle" fill="#000" >7.5 Kb</text>
<line x1="83.61" y1="566.10" x2="83.61" y2="558.90" stroke="#333" stroke-width="1.0"/>
<line x1="91.37" y1="566.10" x2="91.37" y2="558.90" stroke="#333" stroke-width="1.0"/>
<line x1="99.14" y1="566.10" x2="99.14" y2="558.90" stroke="#333" stroke-width="1.0"/>
<line x1="106.90" y1="566.10" x2="106.90" y2="558.90" stroke="#333" stroke-width="1.0"/>
<line x1="114.67" y1="566.10" x2="114.67" y2="547.60" stroke="#333" stroke-width="1.0"/>
<line x1="122.44" y1="566.10" x2="122.44" y2="558.90" stroke="#333" stroke-width="1.0"/>
<line x1="130.20" y1="566.10" x2="130.20" y2="558.90" stroke="#333" stroke-width="1.0"/>
<line x1="137.97" y1="566.10" x2="137.97" y2="558.90" stroke="#333" stroke-width="1.0"/>
<line x1="145.73" y1="566.10" x2="145.73" y2="558.90" stroke="#333" stroke-width="1.0"/>
<line x1="153.50" y1="566.10" x2="153.50" y2="536.20" stroke="#333" stroke-width="1.0"/>
<line x1="161.27" y1="566.10" x2="161.27" y2="558.90" stroke="#333" stroke-width="1.0"/>
<line x1="169.03" y1="566.10" x2="169.03" y2="558.90" stroke="#333" stroke-width="1.0"/>
<line x1="176.80" y1="566.10" x2="176.80" y2="558.90" stroke="#333" stroke-width="1.0"/>
<line x1="184.56" y1="566.10" x2="184.56" y2="558.90" stroke="#333" stroke-width="1.0"/>
<line x1="192.33" y1="566.10" x2="192.33" y2="547.60" stroke="#333" stroke-width="1.0"/>
<line x1="200.10" y1="566.10" x2="200.10" y2="558.90" stroke="#333" stroke-width="1.0"/>
<line x1="207.86" y1="566.10" x2="207.86" y2="558.90" stroke="#333" stroke-width="1.0"/>
<line x1="215.63" y1="566.10" x2="215.63" y2="558.90" stroke="#333" stroke-width="1.0"/>
<line x1="223.39" y1="566.10" x2="223.39" y2="558.90" stroke="#333" stroke-width="1.0"/>
<line x1="231.16" y1="566.10" x2="231.16" y2="536.20" stroke="#333" stroke-width="1.0"/>
<line x1="238.93" y1="566.10" x2="238.93" y2="558.90" stroke="#333" stroke-width="1.0"/>
<line x1="246.69" y1="566.10" x2="246.69" y2="558.90" stroke="#333" stroke-width="1.0"/>
<line x1="254.46" y1="566.10" x2="254.46" y2="558.90" stroke="#333" stroke-width="1.0"/>
<line x1="262.22" y1="566.10" x2="262.22" y2="558.90" stroke="#333" stroke-width="1.0"/>
<line x1="269.99" y1="566.10" x2="269.99" y2="547.60" stroke="#333" stroke-width="1.0"/>
<line x1="277.76" y1="566.10" x2="277.76" y2="558.90" stroke="#333" stroke-width="1.0"/>
<line x1="285.52" y1="566.10" x2="285.52" y2="558.90" stroke="#333" stroke-width="1.0"/>
<line x1="293.29" y1="566.10" x2="293.29" y2="558.90" stroke="#333" stroke-width="1.0"/>
<line x1="301.05" y1="566.10" x2="301.05" y2="558.90" stroke="#333" stroke-width="1.0"/>
<line x1="308.82" y1="566.10" x2="308.82" y2="536.20" stroke="#333" stroke-width="1.0"/>
<line x1="316.59" y1="566.10" x2="316.59" y2="558.90" stroke="#333" stroke-width="1.0"/>
<line x1="324.35" y1="566.10" x2="324.35" y2="558.90" stroke="#333" stroke-width="1.0"/>
<line x1="332.12" y1="566.10" x2="332.12" y2="558.90" stroke="#333" stroke-width="1.0"/>
<line x1="339.88" y1="566.10" x2="339.88" y2="558.90" stroke="#333" stroke-width="1.0"/>
<line x1="347.65" y1="566.10" x2="347.65" y2="547.60" stroke="#333" stroke-width="1.0"/>
<line x1="355.42" y1="566.10" x2="355.42" y2="558.90" stroke="#333" stroke-width="1.0"/>
<line x1="363.18" y1="566.10" x2="363.18" y2="558.90" stroke="#333" stroke-width="1.0"/>
<line x1="370.95" y1="566.10" x2="370.95" y2="558.90" stroke="#333" stroke-width="1.0"/>
<line x1="378.71" y1="566.10" x2="378.71" y2="558.90" stroke="#333" stroke-width="1.0"/>
<line x1="386.48" y1="566.10" x2="386.48" y2="536.20" stroke="#333" stroke-width="1.0"/>
<line x1="394.25" y1="566.10" x2="394.25" y2="558.90" stroke="#333" stroke-width="1.0"/>
<line x1="402.01" y1="566.10" x2="402.01" y2="558.90" stroke="#333" stroke-width="1.0"/>
<line x1="409.78" y1="566.10" x2="409.78" y2="558.90" stroke="#333" stroke-width="1.0"/>
<line x1="417.54" y1="566.10" x2="417.54" y2="558.90" stroke="#333" stroke-width="1.0"/>
<line x1="425.31" y1="566.10" x2="425.31" y2="547.60" stroke="#333" stroke-width="1.0"/>
<line x1="433.08" y1="566.10" x2="433.08" y2="558.90" stroke="#333" stroke-width="1.0"/>
<line x1="440.84" y1="566.10" x2="440.84" y2="558.90" stroke="#333" stroke-width="1.0"/>
<line x1="448.61" y1="566.10" x2="448.61" y2="558.90" stroke="#333" stroke-width="1.0"/>
<line x1="456.37" y1="566.10" x2="456.37" y2="558.90" stroke="#333" stroke-width="1.0"/>
<line x1="464.14" y1="566.10" x2="464.14" y2="536.20" stroke="#333" stroke-width="1.0"/>
<line x1="471.91" y1="566.10" x2="471.91" y2="558.90" stroke="#333" stroke-width="1.0"/>
<line x1="479.67" y1="566.10" x2="479.67" y2="558.90" stroke="#333" stroke-width="1.0"/>
<line x1="487.44" y1="566.10" x2="487.44" y2="558.90" stroke="#333" stroke-width="1.0"/>
<line x1="495.20" y1="566.10" x2="495.20" y2="558.90" stroke="#333" stroke-width="1.0"/>
<line x1="502.97" y1="566.10" x2="502.97" y2="547.60" stroke="#333" stroke-width="1.0"/>
<line x1="510.74" y1="566.10" x2="510.74" y2="558.90" stroke="#333" stroke-width="1.0"/>
<line x1="518.50" y1="566.10" x2="518.50" y2="558.90" stroke="#333" stroke-width="1.0"/>
<line x1="526.27" y1="566.10" x2="526.27" y2="558.90" stroke="#333" stroke-width="1.0"/>
<line x1="534.03" y1="566.10" x2="534.03" y2="558.90" stroke="#333" stroke-width="1.0"/>
<line x1="541.80" y1="566.10" x2="541.80" y2="536.20" stroke="#333" stroke-width="1.0"/>
<line x1="549.57" y1="566.10" x2="549.57" y2="558.90" stroke="#333" stroke-width="1.0"/>
<line x1="557.33" y1="566.10" x2="557.33" y2="558.90" stroke="#333" stroke-width="1.0"/>
<line x1="565.10" y1="566.10" x2="565.10" y2="558.90" stroke="#333" stroke-width="1.0"/>
<line x1="572.86" y1="566.10" x2="572.86" y2="558.90" stroke="#333" stroke-width="1.0"/>
<line x1="580.63" y1="566.10" x2="580.63" y2="547.60" stroke="#333" stroke-width="1.0"/>
<line x1="588.40" y1="566.10" x2="588.40" y2="558.90" stroke="#333" stroke-width="1.0"/>
<line x1="596.16" y1="566.10" x2="596.16" y2="558.90" stroke="#333" stroke-width="1.0"/>
<line x1="603.93" y1="566.10" x2="603.93" y2="558.90" stroke="#333" stroke-width="1.0"/>
<line x1="611.69" y1="566.10" x2="611.69" y2="558.90" stroke="#333" stroke-width="1.0"/>
<line x1="619.46" y1="566.10" x2="619.46" y2="536.20" stroke="#333" stroke-width="1.0"/>
<line x1="627.23" y1="566.10" x2="627.23" y2="558.90" stroke="#333" stroke-width="1.0"/>
<line x1="634.99" y1="566.10" x2="634.99" y2="558.90" stroke="#333" stroke-width="1.0"/>
<line x1="642.76" y1="566.10" x2="642.76" y2="558.90" stroke="#333" stroke-width="1.0"/>
<line x1="650.52" y1="566.10" x2="650.52" y2="558.90" stroke="#333" stroke-width="1.0"/>
<line x1="658.29" y1="566.10" x2="658.29" y2="547.60" stroke="#333" stroke-width="1.0"/>
<line x1="666.06" y1="566.10" x2="666.06" y2="558.90" stroke="#333" stroke-width="1.0"/>
<line x1="673.82" y1="566.10" x2="673.82" y2="558.90" stroke="#333" stroke-width="1.0"/>
<line x1="681.59" y1="566.10" x2="681.59" y2="558.90" stroke="#333" stroke-width="1.0"/>
<line x1="689.35" y1="566.10" x2="689.35" y2="558.90" stroke="#333" stroke-width="1.0"/>
<line x1="697.12" y1="566.10" x2="697.12" y2="536.20" stroke="#333" stroke-width="1.0"/>
<line x1="704.89" y1="566.10" x2="704.89" y2="558.90" stroke="#333" stroke-width="1.0"/>
<line x1="712.65" y1="566.10" x2="712.65" y2="558.90" stroke="#333" stroke-width="1.0"/>
<line x1="720.42" y1="566.10" x2="720.42" y2="558.90" stroke="#333" stroke-width="1.0"/>
<line x1="728.18" y1="566.10" x2="728.18" y2="558.90" stroke="#333" stroke-width="1.0"/>
<line x1="735.95" y1="566.10" x2="735.95" y2="547.60" stroke="#333" stroke-width="1.0"/>
<line x1="743.72" y1="566.10" x2="743.72" y2="558.90" stroke="#333" stroke-width="1.0"/>
<line x1="751.48" y1="566.10" x2="751.48" y2="558.90" stroke="#333" stroke-width="1.0"/>
<line x1="759.25" y1="566.10" x2="759.25" y2="558.90" stroke="#333" stroke-width="1.0"/>
<line x1="767.01" y1="566.10" x2="767.01" y2="558.90" stroke="#333" stroke-width="1.0"/>
<line x1="774.78" y1="566.10" x2="774.78" y2="536.20" stroke="#333" stroke-width="1.0"/>
<line x1="782.55" y1="566.10" x2="782.55" y2="558.90" stroke="#333" stroke-width="1.0"/>
<line x1="790.31" y1="566.10" x2="790.31" y2="558.90" stroke="#333" stroke-width="1.0"/>
<line x1="798.08" y1="566.10" x2="798.08" y2="558.90" stroke="#333" stroke-width="1.0"/>
<line x1="805.84" y1="566.10" x2="805.84" y2="558.90" stroke="#333" stroke-width="1.0"/>
<line x1="813.61" y1="566.10" x2="813.61" y2="547.60" stroke="#333" stroke-width="1.0"/>
<line x1="821.38" y1="566.10" x2="821.38" y2="558.90" stroke="#333" stroke-width="1.0"/>
<line x1="829.14" y1="566.10" x2="829.14" y2="558.90" stroke="#333" stroke-width="1.0"/>
<line x1="836.91" y1="566.10" x2="836.91" y2="558.90" stroke="#333" stroke-width="1.0"/>
<line x1="844.67" y1="566.10" x2="844.67" y2="558.90" stroke="#333" stroke-width="1.0"/>
<line x1="852.44" y1="566.10" x2="852.44" y2="536.20" stroke="#333" stroke-width="1.0"/>
<line x1="860.21" y1="566.10" x2="860.21" y2="558.90" stroke="#333" stroke-width="1.0"/>
<line x1="867.97" y1="566.10" x2="867.97" y2="558.90" stroke="#333" stroke-width="1.0"/>
<line x1="875.74" y1="566.10" x2="875.74" y2="558.90" stroke="#333" stroke-width="1.0"/>
<line x1="883.50" y1="566.10" x2="883.50" y2="558.90" stroke="#333" stroke-width="1.0"/>
<line x1="891.27" y1="566.10" x2="891.27" y2="547.60" stroke="#333" stroke-width="1.0"/>
<line x1="899.04" y1="566.10" x2="899.04" y2="558.90" stroke="#333" stroke-width="1.0"/>
<line x1="906.80" y1="566.10" x2="906.80" y2="558.90" stroke="#333" stroke-width="1.0"/>
<line x1="914.57" y1="566.10" x2="914.57" y2="558.90" stroke="#333" stroke-width="1.0"/>
<rect x="80.70" y="566.10" width="835.90" height="37.90" fill="none" stroke="#222" stroke-width="1.4" />
<polygon points="94.30,572.60 205.50,572.60 212.00,583.95 205.50,595.30 94.30,595.30 91.90,592.90 91.90,575.00" fill="#00a0d0" stroke="none" stroke-width="1" />
<polygon points="95.38,575.20 203.99,575.20 209.00,583.95 203.99,592.70 95.38,592.70 94.50,591.82 94.50,576.08" fill="#fff" stroke="none" stroke-width="1" />
<polygon points="210.10,569.50 226.00,585.15 210.10,600.80" fill="#868686" stroke="none" stroke-width="1" />
<polygon points="213.50,577.62 221.15,585.15 213.50,592.68" fill="url(#gTr)" stroke="none" stroke-width="1" />
<polygon points="230.50,570.10 293.80,570.10 300.80,585.20 293.80,600.30 230.50,600.30 226.00,595.80 226.00,574.60" fill="url(#gC)" stroke="none" stroke-width="1" />
<polygon points="232.16,574.10 291.25,574.10 296.39,585.20 291.25,596.30 232.16,596.30 230.00,594.14 230.00,576.26" fill="#fff" stroke="none" stroke-width="1" />
<text x="266.7" y="592.3" font-family="'Liberation Serif','Times New Roman',serif" font-size="22" font-weight="bold" text-anchor="middle" fill="#000" >Fbox</text>
<polygon points="307.10,570.10 310.30,570.10 318.00,585.20 310.30,600.30 307.10,600.30 302.10,595.30 302.10,575.10" fill="url(#gC)" stroke="none" stroke-width="1" />
<polygon points="308.76,574.10 307.85,574.10 313.51,585.20 307.85,596.30 308.76,596.30 306.10,593.64 306.10,576.76" fill="#fff" stroke="none" stroke-width="1" />
<polygon points="403.60,570.10 420.00,570.10 426.40,585.20 420.00,600.30 403.60,600.30 399.10,595.80 399.10,574.60" fill="url(#gC)" stroke="none" stroke-width="1" />
<polygon points="405.26,574.10 417.35,574.10 422.06,585.20 417.35,596.30 405.26,596.30 403.10,594.14 403.10,576.26" fill="#fff" stroke="none" stroke-width="1" />
<polygon points="426.20,570.10 441.50,570.10 447.30,585.20 441.50,600.30 426.20,600.30 423.20,597.30 423.20,573.10" fill="#868686" stroke="none" stroke-width="1" />
<polygon points="427.65,573.60 439.10,573.60 443.55,585.20 439.10,596.80 427.65,596.80 426.70,595.85 426.70,574.55" fill="url(#gV)" stroke="none" stroke-width="1" />
<rect x="45.50" y="817.90" width="906.20" height="37.30" fill="none" stroke="#222" stroke-width="1.4" />
<polygon points="685.70,821.70 671.00,821.70 665.00,836.65 671.00,851.60 685.70,851.60 688.70,848.60 688.70,824.70" fill="#868686" stroke="none" stroke-width="1" />
<polygon points="684.25,825.20 673.37,825.20 668.77,836.65 673.37,848.10 684.25,848.10 685.20,847.15 685.20,826.15" fill="url(#gV)" stroke="none" stroke-width="1" />
<polygon points="708.30,821.70 692.40,821.70 686.10,836.65 692.40,851.60 708.30,851.60 712.80,847.10 712.80,826.20" fill="url(#gCR)" stroke="none" stroke-width="1" />
<polygon points="706.64,825.70 695.06,825.70 690.44,836.65 695.06,847.60 706.64,847.60 708.80,845.44 708.80,827.86" fill="#fff" stroke="none" stroke-width="1" />
<polygon points="804.50,821.70 800.90,821.70 794.30,836.65 800.90,851.60 804.50,851.60 809.50,846.60 809.50,826.70" fill="url(#gCR)" stroke="none" stroke-width="1" />
<polygon points="802.84,825.70 803.51,825.70 798.67,836.65 803.51,847.60 802.84,847.60 805.50,844.94 805.50,828.36" fill="#fff" stroke="none" stroke-width="1" />
<polygon points="867.50,821.70 818.00,821.70 811.70,836.65 818.00,851.60 867.50,851.60 872.00,847.10 872.00,826.20" fill="url(#gCR)" stroke="none" stroke-width="1" />
<polygon points="865.84,825.70 820.66,825.70 816.04,836.65 820.66,847.60 865.84,847.60 868.00,845.44 868.00,827.86" fill="#fff" stroke="none" stroke-width="1" />
<text x="842.7" y="844.0" font-family="'Liberation Serif','Times New Roman',serif" font-size="22" font-weight="bold" text-anchor="middle" fill="#000" >?</text>
<line x1="52.98" y1="855.20" x2="52.98" y2="862.90" stroke="#333" stroke-width="1.0"/>
<line x1="60.75" y1="855.20" x2="60.75" y2="862.90" stroke="#333" stroke-width="1.0"/>
<line x1="68.53" y1="855.20" x2="68.53" y2="862.90" stroke="#333" stroke-width="1.0"/>
<line x1="76.30" y1="855.20" x2="76.30" y2="885.60" stroke="#333" stroke-width="1.0"/>
<line x1="84.07" y1="855.20" x2="84.07" y2="862.90" stroke="#333" stroke-width="1.0"/>
<line x1="91.85" y1="855.20" x2="91.85" y2="862.90" stroke="#333" stroke-width="1.0"/>
<line x1="99.62" y1="855.20" x2="99.62" y2="862.90" stroke="#333" stroke-width="1.0"/>
<line x1="107.39" y1="855.20" x2="107.39" y2="862.90" stroke="#333" stroke-width="1.0"/>
<line x1="115.17" y1="855.20" x2="115.17" y2="874.40" stroke="#333" stroke-width="1.0"/>
<line x1="122.94" y1="855.20" x2="122.94" y2="862.90" stroke="#333" stroke-width="1.0"/>
<line x1="130.72" y1="855.20" x2="130.72" y2="862.90" stroke="#333" stroke-width="1.0"/>
<line x1="138.49" y1="855.20" x2="138.49" y2="862.90" stroke="#333" stroke-width="1.0"/>
<line x1="146.26" y1="855.20" x2="146.26" y2="862.90" stroke="#333" stroke-width="1.0"/>
<line x1="154.04" y1="855.20" x2="154.04" y2="885.60" stroke="#333" stroke-width="1.0"/>
<line x1="161.81" y1="855.20" x2="161.81" y2="862.90" stroke="#333" stroke-width="1.0"/>
<line x1="169.58" y1="855.20" x2="169.58" y2="862.90" stroke="#333" stroke-width="1.0"/>
<line x1="177.36" y1="855.20" x2="177.36" y2="862.90" stroke="#333" stroke-width="1.0"/>
<line x1="185.13" y1="855.20" x2="185.13" y2="862.90" stroke="#333" stroke-width="1.0"/>
<line x1="192.90" y1="855.20" x2="192.90" y2="874.40" stroke="#333" stroke-width="1.0"/>
<line x1="200.68" y1="855.20" x2="200.68" y2="862.90" stroke="#333" stroke-width="1.0"/>
<line x1="208.45" y1="855.20" x2="208.45" y2="862.90" stroke="#333" stroke-width="1.0"/>
<line x1="216.22" y1="855.20" x2="216.22" y2="862.90" stroke="#333" stroke-width="1.0"/>
<line x1="224.00" y1="855.20" x2="224.00" y2="862.90" stroke="#333" stroke-width="1.0"/>
<line x1="231.77" y1="855.20" x2="231.77" y2="885.60" stroke="#333" stroke-width="1.0"/>
<line x1="239.55" y1="855.20" x2="239.55" y2="862.90" stroke="#333" stroke-width="1.0"/>
<line x1="247.32" y1="855.20" x2="247.32" y2="862.90" stroke="#333" stroke-width="1.0"/>
<line x1="255.09" y1="855.20" x2="255.09" y2="862.90" stroke="#333" stroke-width="1.0"/>
<line x1="262.87" y1="855.20" x2="262.87" y2="862.90" stroke="#333" stroke-width="1.0"/>
<line x1="270.64" y1="855.20" x2="270.64" y2="874.40" stroke="#333" stroke-width="1.0"/>
<line x1="278.41" y1="855.20" x2="278.41" y2="862.90" stroke="#333" stroke-width="1.0"/>
<line x1="286.19" y1="855.20" x2="286.19" y2="862.90" stroke="#333" stroke-width="1.0"/>
<line x1="293.96" y1="855.20" x2="293.96" y2="862.90" stroke="#333" stroke-width="1.0"/>
<line x1="301.73" y1="855.20" x2="301.73" y2="862.90" stroke="#333" stroke-width="1.0"/>
<line x1="309.51" y1="855.20" x2="309.51" y2="885.60" stroke="#333" stroke-width="1.0"/>
<line x1="317.28" y1="855.20" x2="317.28" y2="862.90" stroke="#333" stroke-width="1.0"/>
<line x1="325.06" y1="855.20" x2="325.06" y2="862.90" stroke="#333" stroke-width="1.0"/>
<line x1="332.83" y1="855.20" x2="332.83" y2="862.90" stroke="#333" stroke-width="1.0"/>
<line x1="340.60" y1="855.20" x2="340.60" y2="862.90" stroke="#333" stroke-width="1.0"/>
<line x1="348.38" y1="855.20" x2="348.38" y2="874.40" stroke="#333" stroke-width="1.0"/>
<line x1="356.15" y1="855.20" x2="356.15" y2="862.90" stroke="#333" stroke-width="1.0"/>
<line x1="363.92" y1="855.20" x2="363.92" y2="862.90" stroke="#333" stroke-width="1.0"/>
<line x1="371.70" y1="855.20" x2="371.70" y2="862.90" stroke="#333" stroke-width="1.0"/>
<line x1="379.47" y1="855.20" x2="379.47" y2="862.90" stroke="#333" stroke-width="1.0"/>
<line x1="387.24" y1="855.20" x2="387.24" y2="885.60" stroke="#333" stroke-width="1.0"/>
<line x1="395.02" y1="855.20" x2="395.02" y2="862.90" stroke="#333" stroke-width="1.0"/>
<line x1="402.79" y1="855.20" x2="402.79" y2="862.90" stroke="#333" stroke-width="1.0"/>
<line x1="410.56" y1="855.20" x2="410.56" y2="862.90" stroke="#333" stroke-width="1.0"/>
<line x1="418.34" y1="855.20" x2="418.34" y2="862.90" stroke="#333" stroke-width="1.0"/>
<line x1="426.11" y1="855.20" x2="426.11" y2="874.40" stroke="#333" stroke-width="1.0"/>
<line x1="433.89" y1="855.20" x2="433.89" y2="862.90" stroke="#333" stroke-width="1.0"/>
<line x1="441.66" y1="855.20" x2="441.66" y2="862.90" stroke="#333" stroke-width="1.0"/>
<line x1="449.43" y1="855.20" x2="449.43" y2="862.90" stroke="#333" stroke-width="1.0"/>
<line x1="457.21" y1="855.20" x2="457.21" y2="862.90" stroke="#333" stroke-width="1.0"/>
<line x1="464.98" y1="855.20" x2="464.98" y2="885.60" stroke="#333" stroke-width="1.0"/>
<line x1="472.75" y1="855.20" x2="472.75" y2="862.90" stroke="#333" stroke-width="1.0"/>
<line x1="480.53" y1="855.20" x2="480.53" y2="862.90" stroke="#333" stroke-width="1.0"/>
<line x1="488.30" y1="855.20" x2="488.30" y2="862.90" stroke="#333" stroke-width="1.0"/>
<line x1="496.07" y1="855.20" x2="496.07" y2="862.90" stroke="#333" stroke-width="1.0"/>
<line x1="503.85" y1="855.20" x2="503.85" y2="874.40" stroke="#333" stroke-width="1.0"/>
<line x1="511.62" y1="855.20" x2="511.62" y2="862.90" stroke="#333" stroke-width="1.0"/>
<line x1="519.40" y1="855.20" x2="519.40" y2="862.90" stroke="#333" stroke-width="1.0"/>
<line x1="527.17" y1="855.20" x2="527.17" y2="862.90" stroke="#333" stroke-width="1.0"/>
<line x1="534.94" y1="855.20" x2="534.94" y2="862.90" stroke="#333" stroke-width="1.0"/>
<line x1="542.72" y1="855.20" x2="542.72" y2="885.60" stroke="#333" stroke-width="1.0"/>
<line x1="550.49" y1="855.20" x2="550.49" y2="862.90" stroke="#333" stroke-width="1.0"/>
<line x1="558.26" y1="855.20" x2="558.26" y2="862.90" stroke="#333" stroke-width="1.0"/>
<line x1="566.04" y1="855.20" x2="566.04" y2="862.90" stroke="#333" stroke-width="1.0"/>
<line x1="573.81" y1="855.20" x2="573.81" y2="862.90" stroke="#333" stroke-width="1.0"/>
<line x1="581.58" y1="855.20" x2="581.58" y2="874.40" stroke="#333" stroke-width="1.0"/>
<line x1="589.36" y1="855.20" x2="589.36" y2="862.90" stroke="#333" stroke-width="1.0"/>
<line x1="597.13" y1="855.20" x2="597.13" y2="862.90" stroke="#333" stroke-width="1.0"/>
<line x1="604.90" y1="855.20" x2="604.90" y2="862.90" stroke="#333" stroke-width="1.0"/>
<line x1="612.68" y1="855.20" x2="612.68" y2="862.90" stroke="#333" stroke-width="1.0"/>
<line x1="620.45" y1="855.20" x2="620.45" y2="885.60" stroke="#333" stroke-width="1.0"/>
<line x1="628.23" y1="855.20" x2="628.23" y2="862.90" stroke="#333" stroke-width="1.0"/>
<line x1="636.00" y1="855.20" x2="636.00" y2="862.90" stroke="#333" stroke-width="1.0"/>
<line x1="643.77" y1="855.20" x2="643.77" y2="862.90" stroke="#333" stroke-width="1.0"/>
<line x1="651.55" y1="855.20" x2="651.55" y2="862.90" stroke="#333" stroke-width="1.0"/>
<line x1="659.32" y1="855.20" x2="659.32" y2="874.40" stroke="#333" stroke-width="1.0"/>
<line x1="667.09" y1="855.20" x2="667.09" y2="862.90" stroke="#333" stroke-width="1.0"/>
<line x1="674.87" y1="855.20" x2="674.87" y2="862.90" stroke="#333" stroke-width="1.0"/>
<line x1="682.64" y1="855.20" x2="682.64" y2="862.90" stroke="#333" stroke-width="1.0"/>
<line x1="690.41" y1="855.20" x2="690.41" y2="862.90" stroke="#333" stroke-width="1.0"/>
<line x1="698.19" y1="855.20" x2="698.19" y2="885.60" stroke="#333" stroke-width="1.0"/>
<line x1="705.96" y1="855.20" x2="705.96" y2="862.90" stroke="#333" stroke-width="1.0"/>
<line x1="713.74" y1="855.20" x2="713.74" y2="862.90" stroke="#333" stroke-width="1.0"/>
<line x1="721.51" y1="855.20" x2="721.51" y2="862.90" stroke="#333" stroke-width="1.0"/>
<line x1="729.28" y1="855.20" x2="729.28" y2="862.90" stroke="#333" stroke-width="1.0"/>
<line x1="737.06" y1="855.20" x2="737.06" y2="874.40" stroke="#333" stroke-width="1.0"/>
<line x1="744.83" y1="855.20" x2="744.83" y2="862.90" stroke="#333" stroke-width="1.0"/>
<line x1="752.60" y1="855.20" x2="752.60" y2="862.90" stroke="#333" stroke-width="1.0"/>
<line x1="760.38" y1="855.20" x2="760.38" y2="862.90" stroke="#333" stroke-width="1.0"/>
<line x1="768.15" y1="855.20" x2="768.15" y2="862.90" stroke="#333" stroke-width="1.0"/>
<line x1="775.92" y1="855.20" x2="775.92" y2="885.60" stroke="#333" stroke-width="1.0"/>
<line x1="783.70" y1="855.20" x2="783.70" y2="862.90" stroke="#333" stroke-width="1.0"/>
<line x1="791.47" y1="855.20" x2="791.47" y2="862.90" stroke="#333" stroke-width="1.0"/>
<line x1="799.24" y1="855.20" x2="799.24" y2="862.90" stroke="#333" stroke-width="1.0"/>
<line x1="807.02" y1="855.20" x2="807.02" y2="862.90" stroke="#333" stroke-width="1.0"/>
<line x1="814.79" y1="855.20" x2="814.79" y2="874.40" stroke="#333" stroke-width="1.0"/>
<line x1="822.57" y1="855.20" x2="822.57" y2="862.90" stroke="#333" stroke-width="1.0"/>
<line x1="830.34" y1="855.20" x2="830.34" y2="862.90" stroke="#333" stroke-width="1.0"/>
<line x1="838.11" y1="855.20" x2="838.11" y2="862.90" stroke="#333" stroke-width="1.0"/>
<line x1="845.89" y1="855.20" x2="845.89" y2="862.90" stroke="#333" stroke-width="1.0"/>
<line x1="853.66" y1="855.20" x2="853.66" y2="885.60" stroke="#333" stroke-width="1.0"/>
<line x1="861.43" y1="855.20" x2="861.43" y2="862.90" stroke="#333" stroke-width="1.0"/>
<line x1="869.21" y1="855.20" x2="869.21" y2="862.90" stroke="#333" stroke-width="1.0"/>
<line x1="876.98" y1="855.20" x2="876.98" y2="862.90" stroke="#333" stroke-width="1.0"/>
<line x1="884.75" y1="855.20" x2="884.75" y2="862.90" stroke="#333" stroke-width="1.0"/>
<line x1="892.53" y1="855.20" x2="892.53" y2="874.40" stroke="#333" stroke-width="1.0"/>
<line x1="900.30" y1="855.20" x2="900.30" y2="862.90" stroke="#333" stroke-width="1.0"/>
<line x1="908.08" y1="855.20" x2="908.08" y2="862.90" stroke="#333" stroke-width="1.0"/>
<line x1="915.85" y1="855.20" x2="915.85" y2="862.90" stroke="#333" stroke-width="1.0"/>
<line x1="923.62" y1="855.20" x2="923.62" y2="862.90" stroke="#333" stroke-width="1.0"/>
<line x1="931.40" y1="855.20" x2="931.40" y2="885.60" stroke="#333" stroke-width="1.0"/>
<line x1="939.17" y1="855.20" x2="939.17" y2="862.90" stroke="#333" stroke-width="1.0"/>
<line x1="946.94" y1="855.20" x2="946.94" y2="862.90" stroke="#333" stroke-width="1.0"/>
<text x="75.5" y="905.0" font-family="'Liberation Serif','Times New Roman',serif" font-size="22" font-weight="bold" text-anchor="middle" fill="#000" >21.595</text>
<text x="235.5" y="905.0" font-family="'Liberation Serif','Times New Roman',serif" font-size="22" font-weight="bold" text-anchor="middle" fill="#000" >21.597</text>
<text x="391.0" y="905.0" font-family="'Liberation Serif','Times New Roman',serif" font-size="22" font-weight="bold" text-anchor="middle" fill="#000" >21.599</text>
<text x="536.7" y="905.0" font-family="'Liberation Serif','Times New Roman',serif" font-size="22" font-weight="bold" text-anchor="middle" fill="#000" >21.601</text>
<text x="683.8" y="905.0" font-family="'Liberation Serif','Times New Roman',serif" font-size="22" font-weight="bold" text-anchor="middle" fill="#000" >21.603</text>
<text x="853.7" y="905.0" font-family="'Liberation Serif','Times New Roman',serif" font-size="22" font-weight="bold" text-anchor="middle" fill="#000" >21.605</text>
<text x="946.4" y="905.0" font-family="'Liberation Serif','Times New Roman',serif" font-size="22" font-weight="bold" text-anchor="middle" fill="#000" >Mb</text>
<text x="263.0" y="933.7" font-family="'Liberation Serif','Times New Roman',serif" font-size="22.6" font-weight="bold" text-anchor="start" fill="#000" ><tspan font-style="italic">XI</tspan>-adm: MH63RS2 Chr11 21,594,609 ~ 21,606,260 bp</text>
<text x="1021.5" y="25.5" font-family="'Liberation Serif','Times New Roman',serif" font-size="38.5" font-weight="bold" text-anchor="start" fill="#000" >b</text>
<text x="1645.6" y="40.2" font-family="'Liberation Sans',Arial,sans-serif" font-size="22.6" font-weight="bold" text-anchor="middle" fill="#000" >5,073 bp</text>
<text x="1078.3" y="57.8" font-family="'Liberation Sans',Arial,sans-serif" font-size="22.7" font-weight="bold" text-anchor="start" fill="#000" >Expression</text>
<text x="1236.9" y="56.3" font-family="'Liberation Serif','Times New Roman',serif" font-size="14.7" font-weight="normal" text-anchor="middle" fill="#000" >10,926</text>
<text x="1396.7" y="56.3" font-family="'Liberation Serif','Times New Roman',serif" font-size="14.7" font-weight="normal" text-anchor="middle" fill="#000" >10,927</text>
<text x="1556.5" y="56.3" font-family="'Liberation Serif','Times New Roman',serif" font-size="14.7" font-weight="normal" text-anchor="middle" fill="#000" >10,928</text>
<text x="1716.3" y="56.3" font-family="'Liberation Serif','Times New Roman',serif" font-size="14.7" font-weight="normal" text-anchor="middle" fill="#000" >10,929</text>
<text x="1876.1" y="56.3" font-family="'Liberation Serif','Times New Roman',serif" font-size="14.7" font-weight="normal" text-anchor="middle" fill="#000" >10,930</text>
<line x1="1235.60" y1="59.10" x2="1235.60" y2="66.50" stroke="#333" stroke-width="1.25"/>
<line x1="1315.50" y1="59.10" x2="1315.50" y2="66.50" stroke="#333" stroke-width="1.25"/>
<line x1="1395.40" y1="59.10" x2="1395.40" y2="66.50" stroke="#333" stroke-width="1.25"/>
<line x1="1475.30" y1="59.10" x2="1475.30" y2="66.50" stroke="#333" stroke-width="1.25"/>
<line x1="1555.20" y1="59.10" x2="1555.20" y2="66.50" stroke="#333" stroke-width="1.25"/>
<line x1="1635.10" y1="59.10" x2="1635.10" y2="66.50" stroke="#333" stroke-width="1.25"/>
<line x1="1715.00" y1="59.10" x2="1715.00" y2="66.50" stroke="#333" stroke-width="1.25"/>
<line x1="1794.90" y1="59.10" x2="1794.90" y2="66.50" stroke="#333" stroke-width="1.25"/>
<line x1="1874.80" y1="59.10" x2="1874.80" y2="66.50" stroke="#333" stroke-width="1.25"/>
<line x1="1954.70" y1="59.10" x2="1954.70" y2="66.50" stroke="#333" stroke-width="1.25"/>
<line x1="2034.60" y1="59.10" x2="2034.60" y2="66.50" stroke="#333" stroke-width="1.25"/>
<text x="2023.3" y="56.3" font-family="'Liberation Serif','Times New Roman',serif" font-size="14.7" font-weight="normal" text-anchor="middle" fill="#000" >Kb</text>
<line x1="1227.50" y1="70.70" x2="2037.60" y2="70.70" stroke="#8a8a8a" stroke-width="1.3"/>
<line x1="1227.50" y1="70.10" x2="1227.50" y2="72.90" stroke="#8a8a8a" stroke-width="1.3"/>
<line x1="2037.60" y1="70.10" x2="2037.60" y2="72.90" stroke="#8a8a8a" stroke-width="1.3"/>
<polygon points="1444.2,116.0 1444.2,113.2 1447.8,113.2 1447.8,116.0" fill="#aaa9ad"/>
<polygon points="1450.2,116.0 1450.2,113.2 1453.9,113.2 1453.9,116.0" fill="#aaa9ad"/>
<polygon points="1455.7,116.0 1455.7,113.2 1456.9,113.2 1456.9,116.0" fill="#aaa9ad"/>
<polygon points="1524.0,116.0 1524.0,113.2 1528.9,113.2 1528.9,116.0" fill="#aaa9ad"/>
<polygon points="1804.1,116.0 1804.1,113.2 1805.0,113.2 1805.0,116.0" fill="#aaa9ad"/>
<polygon points="1868.3,116.0 1868.3,113.2 1869.5,113.2 1869.5,116.0" fill="#aaa9ad"/>
<polygon points="1871.9,116.0 1871.9,113.2 1872.8,113.2 1872.8,116.0" fill="#aaa9ad"/>
<polygon points="1880.4,116.0 1880.4,113.2 1890.4,113.2 1890.4,116.0" fill="#aaa9ad"/>
<polygon points="2002.6,116.0 2002.6,113.2 2008.6,113.2 2008.6,116.0" fill="#aaa9ad"/>
<rect x="1229.20" y="85.80" width="810.20" height="30.40" fill="none" stroke="#8c8c8c" stroke-width="1.3" />
<text x="1230.8" y="97.6" font-family="'Liberation Serif','Times New Roman',serif" font-size="11.2" font-weight="normal" text-anchor="start" fill="#111" >[0 - 10.00]</text>
<rect x="1229.20" y="120.10" width="810.20" height="30.40" fill="none" stroke="#8c8c8c" stroke-width="1.3" />
<text x="1230.8" y="131.9" font-family="'Liberation Serif','Times New Roman',serif" font-size="11.2" font-weight="normal" text-anchor="start" fill="#111" >[0 - 10.00]</text>
<polygon points="1311.7,185.0 1312.3,179.9 1315.2,177.5 1318.7,174.8 1322.2,173.4 1325.8,167.6 1329.3,163.5 1332.8,162.3 1335.1,160.0 1336.3,163.1 1338.6,163.8 1339.8,162.1 1346.2,161.7 1349.2,163.8 1353.9,163.8 1357.4,158.4 1364.4,157.3 1370.2,157.3 1377.3,158.2 1381.4,161.7 1383.7,158.8 1389.0,158.4 1398.9,158.4 1401.9,161.7 1407.7,162.9 1409.5,165.0 1412.4,167.3 1417.1,167.8 1421.2,171.1 1426.4,169.7 1430.0,171.1 1432.3,174.0 1438.1,174.6 1444.0,174.8 1449.8,176.7 1456.9,176.0 1459.2,175.2 1467.4,175.5 1474.4,174.4 1478.0,171.7 1482.6,168.1 1487.3,167.8 1489.7,164.0 1493.2,160.0 1501.4,159.4 1504.9,162.9 1509.6,165.2 1513.1,168.7 1517.7,176.9 1520.1,179.0 1523.6,179.3 1524.8,184.5 1530.0,184.5 1530.0,185.0" fill="#aaa9ad"/>
<polygon points="1795.1,185.0 1799.6,181.7 1803.9,176.8 1808.1,172.3 1813.8,170.8 1823.0,170.1 1827.2,172.8 1828.6,176.5 1833.6,179.3 1835.7,174.0 1842.0,172.8 1859.0,172.8 1861.9,177.5 1870.3,179.3 1877.4,177.9 1890.1,176.1 1896.5,170.1 1907.1,167.6 1915.6,162.6 1926.9,157.7 1946.7,157.0 1949.6,155.0 1966.5,155.3 1972.2,161.9 1980.7,161.2 1992.0,159.5 1999.1,164.0 2003.3,170.4 2006.1,175.4 2012.5,178.9 2015.3,185.0" fill="#aaa9ad"/>
<rect x="1229.20" y="154.70" width="810.20" height="30.40" fill="none" stroke="#8c8c8c" stroke-width="1.3" />
<text x="1230.8" y="166.5" font-family="'Liberation Serif','Times New Roman',serif" font-size="11.2" font-weight="normal" text-anchor="start" fill="#111" >[0 - 18735]</text>
<rect x="1229.20" y="189.00" width="810.20" height="30.40" fill="none" stroke="#8c8c8c" stroke-width="1.3" />
<text x="1230.8" y="200.8" font-family="'Liberation Serif','Times New Roman',serif" font-size="11.2" font-weight="normal" text-anchor="start" fill="#111" >[0 - 10.00]</text>
<rect x="1229.20" y="223.90" width="810.20" height="30.40" fill="none" stroke="#8c8c8c" stroke-width="1.3" />
<text x="1230.8" y="235.7" font-family="'Liberation Serif','Times New Roman',serif" font-size="11.2" font-weight="normal" text-anchor="start" fill="#111" >[0 - 10.00]</text>
<rect x="1229.20" y="258.20" width="810.20" height="30.40" fill="none" stroke="#8c8c8c" stroke-width="1.3" />
<text x="1230.8" y="270.0" font-family="'Liberation Serif','Times New Roman',serif" font-size="11.2" font-weight="normal" text-anchor="start" fill="#111" >[0 - 10.00]</text>
<polygon points="1317.3,320.6 1318.1,317.2 1322.2,316.6 1322.8,312.5 1325.2,310.2 1329.3,307.2 1335.1,306.3 1341.0,304.3 1342.7,306.7 1346.8,306.3 1349.2,311.0 1351.5,309.6 1354.4,308.4 1357.4,302.3 1362.0,299.0 1365.6,296.9 1369.1,297.6 1372.6,296.1 1379.6,300.2 1382.0,303.5 1384.3,299.6 1386.6,302.0 1391.3,302.3 1394.8,301.4 1399.5,303.1 1401.9,305.1 1407.7,306.1 1409.5,309.0 1414.7,310.2 1421.8,312.9 1426.4,311.3 1431.1,312.5 1433.5,314.5 1437.0,314.9 1438.1,316.0 1446.3,316.0 1449.8,317.8 1456.9,319.0 1459.2,318.4 1470.9,318.4 1475.0,315.4 1481.4,313.1 1487.3,313.7 1494.3,311.3 1501.4,311.7 1506.0,313.3 1510.7,313.7 1516.6,316.6 1523.6,317.5 1524.5,320.6" fill="#aaa9ad"/>
<polygon points="1797.0,320.6 1799.3,317.8 1803.4,314.9 1805.2,309.6 1808.7,308.2 1814.0,307.5 1819.8,306.7 1823.9,308.4 1827.4,311.9 1829.2,315.7 1833.3,319.0 1835.0,314.3 1837.4,304.0 1842.0,301.4 1850.2,299.3 1857.8,298.8 1860.8,305.5 1862.0,310.2 1866.0,311.9 1867.8,314.3 1870.7,314.3 1872.5,311.9 1877.2,309.6 1881.9,309.4 1892.4,309.6 1900.6,309.6 1905.3,312.5 1908.8,310.2 1915.8,308.4 1919.9,303.7 1927.5,301.4 1932.2,294.6 1941.6,293.8 1945.1,297.3 1948.6,292.0 1952.1,290.9 1955.6,291.1 1956.8,293.8 1962.6,293.2 1967.3,297.9 1970.8,299.6 1973.2,306.7 1979.0,309.0 1980.2,304.0 1987.2,306.1 1996.6,309.0 2000.0,312.5 2003.6,315.4 2004.8,320.6" fill="#aaa9ad"/>
<rect x="1229.20" y="290.70" width="810.20" height="30.40" fill="none" stroke="#8c8c8c" stroke-width="1.3" />
<text x="1230.8" y="302.5" font-family="'Liberation Serif','Times New Roman',serif" font-size="11.2" font-weight="normal" text-anchor="start" fill="#111" >[0 - 12018]</text>
<rect x="1229.20" y="323.40" width="810.20" height="30.40" fill="none" stroke="#8c8c8c" stroke-width="1.3" />
<text x="1230.8" y="335.2" font-family="'Liberation Serif','Times New Roman',serif" font-size="11.2" font-weight="normal" text-anchor="start" fill="#111" >[0 - 10.00]</text>
<text x="1208.6" y="105.5" font-family="'Liberation Sans',Arial,sans-serif" font-size="22.9" font-weight="bold" text-anchor="end" fill="#000" >Mature Leaf</text>
<text x="1208.6" y="139.7" font-family="'Liberation Sans',Arial,sans-serif" font-size="22.9" font-weight="bold" text-anchor="end" fill="#000" >Panicle</text>
<text x="1208.6" y="173.9" font-family="'Liberation Sans',Arial,sans-serif" font-size="22.9" font-weight="bold" text-anchor="end" fill="#000" >Root</text>
<text x="1208.6" y="208.0" font-family="'Liberation Sans',Arial,sans-serif" font-size="22.9" font-weight="bold" text-anchor="end" fill="#000" >Young Leaf</text>
<text x="1208.6" y="242.2" font-family="'Liberation Sans',Arial,sans-serif" font-size="22.9" font-weight="bold" text-anchor="end" fill="#000" >Mature Leaf</text>
<text x="1208.6" y="276.4" font-family="'Liberation Sans',Arial,sans-serif" font-size="22.9" font-weight="bold" text-anchor="end" fill="#000" >Panicle</text>
<text x="1208.6" y="310.6" font-family="'Liberation Sans',Arial,sans-serif" font-size="22.9" font-weight="bold" text-anchor="end" fill="#000" >Root</text>
<text x="1208.6" y="344.7" font-family="'Liberation Sans',Arial,sans-serif" font-size="22.9" font-weight="bold" text-anchor="end" fill="#000" >Young Leaf</text>
<line x1="1066.70" y1="94.00" x2="1066.70" y2="198.50" stroke="#000" stroke-width="2.6"/>
<line x1="1066.70" y1="224.60" x2="1066.70" y2="329.00" stroke="#000" stroke-width="2.6"/>
<text transform="translate(1047.2,137.5) rotate(-90)" font-family="'Liberation Sans',Arial,sans-serif" font-size="22.9" font-weight="bold" text-anchor="middle">Nipp.</text>
<text transform="translate(1049.5,300.5) rotate(-90)" font-family="'Liberation Sans',Arial,sans-serif" font-size="22.9" font-weight="bold" text-anchor="middle"><tspan font-family="'Liberation Serif','Times New Roman',serif" font-style="italic" font-weight="bold" font-size="24">Os</tspan> vg. Minghui 63</text>
<rect x="1227.00" y="369.00" width="810.60" height="15.80" fill="#303399" stroke="none" stroke-width="1" />
<rect x="1328.10" y="366.00" width="156.50" height="21.70" fill="#303399" stroke="none" stroke-width="1" />
<rect x="1840.00" y="366.00" width="160.00" height="21.70" fill="#303399" stroke="none" stroke-width="1" />
<path d="M1346.20,373.80 L1348.20,377.20 L1346.20,380.60" fill="none" stroke="#fff" stroke-width="1.25"/>
<path d="M1366.50,373.80 L1368.50,377.20 L1366.50,380.60" fill="none" stroke="#fff" stroke-width="1.25"/>
<path d="M1386.80,373.80 L1388.80,377.20 L1386.80,380.60" fill="none" stroke="#fff" stroke-width="1.25"/>
<path d="M1407.10,373.80 L1409.10,377.20 L1407.10,380.60" fill="none" stroke="#fff" stroke-width="1.25"/>
<path d="M1427.40,373.80 L1429.40,377.20 L1427.40,380.60" fill="none" stroke="#fff" stroke-width="1.25"/>
<path d="M1447.70,373.80 L1449.70,377.20 L1447.70,380.60" fill="none" stroke="#fff" stroke-width="1.25"/>
<path d="M1468.00,373.80 L1470.00,377.20 L1468.00,380.60" fill="none" stroke="#fff" stroke-width="1.25"/>
<path d="M1806.40,373.80 L1804.40,377.20 L1806.40,380.60" fill="none" stroke="#fff" stroke-width="1.25"/>
<path d="M1826.50,373.80 L1824.50,377.20 L1826.50,380.60" fill="none" stroke="#fff" stroke-width="1.25"/>
<path d="M1846.60,373.80 L1844.60,377.20 L1846.60,380.60" fill="none" stroke="#fff" stroke-width="1.25"/>
<path d="M1866.70,373.80 L1864.70,377.20 L1866.70,380.60" fill="none" stroke="#fff" stroke-width="1.25"/>
<path d="M1887.30,373.80 L1885.30,377.20 L1887.30,380.60" fill="none" stroke="#fff" stroke-width="1.25"/>
<path d="M1907.40,373.80 L1905.40,377.20 L1907.40,380.60" fill="none" stroke="#fff" stroke-width="1.25"/>
<path d="M1928.00,373.80 L1926.00,377.20 L1928.00,380.60" fill="none" stroke="#fff" stroke-width="1.25"/>
<path d="M1948.10,373.80 L1946.10,377.20 L1948.10,380.60" fill="none" stroke="#fff" stroke-width="1.25"/>
<path d="M1968.20,373.80 L1966.20,377.20 L1968.20,380.60" fill="none" stroke="#fff" stroke-width="1.25"/>
<path d="M1988.30,373.80 L1986.30,377.20 L1988.30,380.60" fill="none" stroke="#fff" stroke-width="1.25"/>
<path d="M2009.00,373.80 L2007.00,377.20 L2009.00,380.60" fill="none" stroke="#fff" stroke-width="1.25"/>
<polygon points="1230.70,408.60 1291.10,408.60 1294.10,420.55 1291.10,432.50 1230.70,432.50 1228.30,430.10 1228.30,411.00" fill="#00a0d0" stroke="none" stroke-width="1" />
<polygon points="1231.78,411.20 1289.07,411.20 1291.42,420.55 1289.07,429.90 1231.78,429.90 1230.90,429.02 1230.90,412.08" fill="#fff" stroke="none" stroke-width="1" />
<polygon points="1302.90,403.30 1324.60,420.55 1302.90,437.80" fill="#868686" stroke="none" stroke-width="1" />
<polygon points="1306.50,410.76 1318.81,420.55 1306.50,430.34" fill="url(#gTr)" stroke="none" stroke-width="1" />
<polygon points="1327.80,405.30 1466.50,405.30 1488.90,420.55 1466.50,435.80 1327.80,435.80 1323.30,431.30 1323.30,409.80" fill="url(#gC)" stroke="none" stroke-width="1" />
<polygon points="1329.37,409.10 1465.33,409.10 1482.15,420.55 1465.33,432.00 1329.37,432.00 1327.10,429.73 1327.10,411.37" fill="#fff" stroke="none" stroke-width="1" />
<text x="1400.0" y="426.5" font-family="'Liberation Serif','Times New Roman',serif" font-size="22" font-weight="bold" text-anchor="middle" fill="#000" >NAS2</text>
<polygon points="1490.70,405.60 1496.60,405.60 1517.60,420.55 1496.60,435.50 1490.70,435.50 1487.70,432.50 1487.70,408.60" fill="#868686" stroke="none" stroke-width="1" />
<polygon points="1492.15,409.10 1495.48,409.10 1511.57,420.55 1495.48,432.00 1492.15,432.00 1491.20,431.05 1491.20,410.05" fill="url(#gV)" stroke="none" stroke-width="1" />
<polygon points="1835.60,405.50 1812.90,405.50 1792.50,420.55 1812.90,435.60 1835.60,435.60 1838.60,432.60 1838.60,408.50" fill="#868686" stroke="none" stroke-width="1" />
<polygon points="1834.15,409.00 1814.05,409.00 1798.40,420.55 1814.05,432.10 1834.15,432.10 1835.10,431.15 1835.10,409.95" fill="url(#gV)" stroke="none" stroke-width="1" />
<polygon points="1988.90,405.30 1858.40,405.30 1838.60,420.55 1858.40,435.80 1988.90,435.80 1993.40,431.30 1993.40,409.80" fill="url(#gC)" stroke="none" stroke-width="1" />
<polygon points="1987.33,409.10 1859.69,409.10 1844.83,420.55 1859.69,432.00 1987.33,432.00 1989.60,429.73 1989.60,411.37" fill="#fff" stroke="none" stroke-width="1" />
<text x="1925.2" y="426.6" font-family="'Liberation Serif','Times New Roman',serif" font-size="22" font-weight="bold" text-anchor="middle" fill="#000" >NAS1</text>
<polygon points="2017.00,404.00 1996.60,420.55 2017.00,437.10" fill="#868686" stroke="none" stroke-width="1" />
<polygon points="2013.40,411.56 2002.31,420.55 2013.40,429.54" fill="url(#gTl)" stroke="none" stroke-width="1" />
<rect x="2022.90" y="409.40" width="24.60" height="22.30" fill="#fff" stroke="#00a0d0" stroke-width="2.6" />
<text x="1391.6" y="461.5" font-family="'Liberation Serif','Times New Roman',serif" font-size="22.5" font-weight="bold" text-anchor="middle" fill="#000" >Os03g0307200</text>
<text x="1921.9" y="460.9" font-family="'Liberation Serif','Times New Roman',serif" font-size="22.5" font-weight="bold" text-anchor="middle" fill="#000" >Os03g0307300</text>
<text x="1032.8" y="541.0" font-family="'Liberation Serif','Times New Roman',serif" font-size="38.5" font-weight="bold" text-anchor="start" fill="#000" >d</text>
<text x="1641.6" y="525.2" font-family="'Liberation Sans',Arial,sans-serif" font-size="22.6" font-weight="bold" text-anchor="middle" fill="#000" >6,767 bp</text>
<text x="1087.2" y="545.7" font-family="'Liberation Sans',Arial,sans-serif" font-size="22.7" font-weight="bold" text-anchor="start" fill="#000" >Expression</text>
<text x="1254.1" y="551.2" font-family="'Liberation Serif','Times New Roman',serif" font-size="14.7" font-weight="normal" text-anchor="middle" fill="#000" >19,383</text>
<text x="1373.4" y="551.2" font-family="'Liberation Serif','Times New Roman',serif" font-size="14.7" font-weight="normal" text-anchor="middle" fill="#000" >19,384</text>
<text x="1492.8" y="551.2" font-family="'Liberation Serif','Times New Roman',serif" font-size="14.7" font-weight="normal" text-anchor="middle" fill="#000" >19,385</text>
<text x="1612.1" y="551.2" font-family="'Liberation Serif','Times New Roman',serif" font-size="14.7" font-weight="normal" text-anchor="middle" fill="#000" >19,386</text>
<text x="1731.4" y="551.2" font-family="'Liberation Serif','Times New Roman',serif" font-size="14.7" font-weight="normal" text-anchor="middle" fill="#000" >19,387</text>
<text x="1850.7" y="551.2" font-family="'Liberation Serif','Times New Roman',serif" font-size="14.7" font-weight="normal" text-anchor="middle" fill="#000" >19,388</text>
<text x="1970.1" y="551.2" font-family="'Liberation Serif','Times New Roman',serif" font-size="14.7" font-weight="normal" text-anchor="middle" fill="#000" >19,389</text>
<line x1="1252.80" y1="554.70" x2="1252.80" y2="560.60" stroke="#333" stroke-width="1.25"/>
<line x1="1312.46" y1="554.70" x2="1312.46" y2="560.60" stroke="#333" stroke-width="1.25"/>
<line x1="1372.13" y1="554.70" x2="1372.13" y2="560.60" stroke="#333" stroke-width="1.25"/>
<line x1="1431.80" y1="554.70" x2="1431.80" y2="560.60" stroke="#333" stroke-width="1.25"/>
<line x1="1491.46" y1="554.70" x2="1491.46" y2="560.60" stroke="#333" stroke-width="1.25"/>
<line x1="1551.12" y1="554.70" x2="1551.12" y2="560.60" stroke="#333" stroke-width="1.25"/>
<line x1="1610.79" y1="554.70" x2="1610.79" y2="560.60" stroke="#333" stroke-width="1.25"/>
<line x1="1670.45" y1="554.70" x2="1670.45" y2="560.60" stroke="#333" stroke-width="1.25"/>
<line x1="1730.12" y1="554.70" x2="1730.12" y2="560.60" stroke="#333" stroke-width="1.25"/>
<line x1="1789.78" y1="554.70" x2="1789.78" y2="560.60" stroke="#333" stroke-width="1.25"/>
<line x1="1849.45" y1="554.70" x2="1849.45" y2="560.60" stroke="#333" stroke-width="1.25"/>
<line x1="1909.11" y1="554.70" x2="1909.11" y2="560.60" stroke="#333" stroke-width="1.25"/>
<line x1="1968.78" y1="554.70" x2="1968.78" y2="560.60" stroke="#333" stroke-width="1.25"/>
<line x1="2028.44" y1="554.70" x2="2028.44" y2="560.60" stroke="#333" stroke-width="1.25"/>
<text x="2014.5" y="551.2" font-family="'Liberation Serif','Times New Roman',serif" font-size="14.7" font-weight="normal" text-anchor="middle" fill="#000" >Kb</text>
<line x1="1237.20" y1="567.60" x2="2047.60" y2="567.60" stroke="#8a8a8a" stroke-width="1.3"/>
<line x1="1237.20" y1="567.00" x2="1237.20" y2="569.80" stroke="#8a8a8a" stroke-width="1.3"/>
<line x1="2047.60" y1="567.00" x2="2047.60" y2="569.80" stroke="#8a8a8a" stroke-width="1.3"/>
<polygon points="1492.0,608.9 1493.7,608.3 1496.4,606.9 1499.1,604.2 1503.9,603.5 1506.0,601.1 1508.7,596.6 1511.4,595.3 1515.5,593.5 1518.3,593.0 1521.0,591.9 1521.7,591.9 1521.7,608.3 1527.8,608.7 1527.8,608.9" fill="#aaa9ad"/>
<polygon points="1561.3,608.9 1561.6,607.2 1568.8,607.2 1568.8,608.9" fill="#aaa9ad"/>
<polygon points="1574.3,608.9 1578.1,608.3 1578.4,589.8 1581.1,590.5 1581.8,592.5 1587.9,592.5 1589.3,594.6 1591.3,593.2 1592.0,589.8 1592.7,589.8 1592.7,608.9" fill="#aaa9ad"/>
<polygon points="1605.0,608.9 1605.4,589.1 1607.0,587.8 1613.2,587.1 1615.9,583.7 1618.7,581.6 1620.7,583.7 1623.4,590.5 1626.9,591.9 1628.2,590.2 1631.0,594.6 1634.4,600.7 1637.1,595.3 1637.8,593.2 1643.9,591.9 1649.4,591.9 1653.5,590.5 1654.9,587.5 1657.6,587.8 1663.1,585.0 1665.1,583.7 1668.5,579.3 1671.3,579.6 1676.7,583.0 1679.5,586.4 1682.2,585.0 1684.2,586.4 1684.9,591.9 1690.4,592.5 1693.1,594.3 1698.6,594.6 1701.3,592.5 1704.0,590.5 1706.8,591.9 1707.5,591.9 1707.5,607.2 1715.0,607.2 1715.0,608.9" fill="#aaa9ad"/>
<polygon points="1716.3,608.9 1716.6,589.1 1720.4,589.1 1723.2,585.0 1725.9,586.4 1728.6,580.9 1730.0,582.3 1734.1,582.3 1734.8,582.3 1734.8,608.3 1741.6,608.7 1741.6,608.9" fill="#aaa9ad"/>
<polygon points="1863.1,608.9 1863.4,608.3 1869.0,608.3 1869.3,582.3 1873.4,583.0 1876.1,583.9 1878.9,584.8 1881.6,585.7 1883.0,590.5 1887.0,595.3 1890.5,589.1 1892.5,587.8 1898.0,588.4 1903.4,589.8 1907.5,587.1 1908.2,587.1 1908.9,594.6 1911.6,596.0 1914.4,600.1 1918.5,601.4 1922.6,602.8 1925.3,605.5 1926.7,607.6 1930.1,608.3 1930.8,608.9" fill="#aaa9ad"/>
<rect x="1243.30" y="579.00" width="796.10" height="30.40" fill="none" stroke="#8c8c8c" stroke-width="1.3" />
<text x="1250.3" y="593.6" font-family="'Liberation Serif','Times New Roman',serif" font-size="11.2" font-weight="normal" text-anchor="start" fill="#111" >[0 - 56]</text>
<polygon points="1499.1,643.8 1499.4,637.2 1506.0,636.9 1506.2,633.1 1512.1,632.8 1513.9,628.5 1517.6,628.5 1518.0,635.3 1521.7,635.3 1521.7,643.8" fill="#aaa9ad"/>
<polygon points="1564.7,643.8 1565.0,642.1 1578.1,642.1 1578.4,633.1 1580.4,633.5 1581.8,637.6 1584.5,639.7 1586.6,635.6 1588.6,636.9 1589.3,637.2 1592.7,637.2 1592.7,643.8" fill="#aaa9ad"/>
<polygon points="1605.0,643.8 1605.4,630.1 1613.2,630.1 1615.2,627.4 1616.6,629.4 1618.7,628.1 1620.7,630.1 1624.1,630.1 1624.8,637.2 1627.5,636.9 1630.3,633.1 1633.0,634.2 1635.1,637.6 1635.7,633.5 1639.2,630.1 1641.2,624.6 1645.3,624.6 1648.0,624.6 1650.1,617.1 1653.5,617.1 1654.9,615.1 1657.6,615.1 1660.3,620.5 1663.1,619.9 1665.8,619.2 1668.5,628.7 1671.3,634.2 1674.0,639.7 1676.0,634.2 1680.8,632.8 1682.2,628.1 1691.7,628.1 1693.1,623.3 1694.5,621.9 1695.8,628.1 1698.6,628.1 1699.9,635.3 1707.5,635.3 1707.5,643.8" fill="#aaa9ad"/>
<polygon points="1716.3,643.8 1716.6,635.3 1719.8,635.3 1721.8,630.8 1723.9,630.1 1728.6,630.1 1730.0,624.6 1732.0,622.6 1734.8,621.9 1734.8,639.9 1749.8,639.9 1749.8,641.7 1754.6,642.1 1754.6,643.8" fill="#aaa9ad"/>
<polygon points="1764.8,643.8 1764.8,642.1 1783.9,642.1 1783.9,643.8" fill="#aaa9ad"/>
<polygon points="1794.2,643.8 1794.2,642.1 1813.3,642.1 1813.3,643.8" fill="#aaa9ad"/>
<polygon points="1820.1,643.8 1820.1,639.9 1837.9,639.9 1837.9,643.8" fill="#aaa9ad"/>
<polygon points="1863.1,643.8 1863.1,642.1 1869.0,642.1 1869.3,619.5 1872.0,619.9 1873.4,624.0 1875.4,624.0 1879.5,617.1 1881.6,617.1 1883.0,626.0 1887.7,626.3 1891.1,628.7 1893.2,630.1 1894.6,634.2 1896.6,630.1 1898.0,636.9 1900.7,633.1 1904.8,633.1 1906.9,628.1 1909.6,626.3 1913.0,626.7 1915.1,631.5 1918.5,636.9 1923.9,637.2 1926.0,643.8" fill="#aaa9ad"/>
<rect x="1243.30" y="613.50" width="796.10" height="30.40" fill="none" stroke="#8c8c8c" stroke-width="1.3" />
<text x="1250.3" y="628.1" font-family="'Liberation Serif','Times New Roman',serif" font-size="11.2" font-weight="normal" text-anchor="start" fill="#111" >[0 - 28]</text>
<polygon points="1492.0,677.9 1492.6,674.1 1496.4,671.8 1499.1,671.1 1501.9,667.3 1504.6,662.9 1507.3,659.5 1509.4,660.8 1512.8,661.3 1514.2,658.1 1518.3,660.2 1521.0,661.3 1521.7,661.3 1521.7,675.2 1524.8,675.2 1525.1,677.9" fill="#aaa9ad"/>
<polygon points="1572.9,677.9 1573.2,677.2 1578.1,677.2 1578.4,662.9 1580.4,665.6 1582.5,661.8 1585.2,660.2 1587.9,659.5 1589.3,659.5 1590.0,665.6 1592.7,667.3 1592.7,677.9" fill="#aaa9ad"/>
<polygon points="1605.0,677.9 1605.4,666.3 1607.0,666.3 1609.8,669.0 1616.6,671.1 1618.0,673.8 1620.7,672.7 1623.4,671.8 1627.5,668.1 1630.3,666.3 1633.0,667.7 1637.1,669.0 1639.8,667.3 1643.9,667.7 1648.0,666.3 1650.1,662.9 1652.8,659.5 1656.2,658.8 1657.6,655.4 1660.3,657.4 1664.4,655.4 1667.2,649.2 1671.3,650.6 1675.4,649.0 1679.5,652.0 1680.8,648.6 1684.9,649.2 1686.3,653.3 1690.4,654.0 1693.1,657.4 1694.5,662.9 1695.8,655.4 1697.9,655.4 1698.6,660.2 1704.0,659.5 1707.5,660.8 1707.5,677.9" fill="#aaa9ad"/>
<polygon points="1716.3,677.9 1716.6,661.5 1719.1,658.8 1720.4,655.4 1722.5,658.8 1723.2,664.3 1725.9,664.3 1727.3,659.5 1730.0,660.2 1732.7,659.5 1734.8,659.5 1734.8,677.9" fill="#aaa9ad"/>
<polygon points="1781.2,677.9 1783.9,673.8 1788.7,673.6 1794.2,672.5 1799.6,672.7 1803.0,676.8 1811.9,676.8 1812.2,673.8 1829.7,673.8 1832.4,676.8 1832.4,677.9" fill="#aaa9ad"/>
<polygon points="1844.7,677.9 1845.0,675.2 1863.1,675.2 1863.6,677.9" fill="#aaa9ad"/>
<polygon points="1869.0,677.9 1869.3,659.5 1872.0,662.9 1873.4,664.3 1877.5,661.5 1880.2,664.0 1884.3,665.4 1886.4,666.7 1893.9,666.3 1896.6,668.6 1902.1,670.4 1906.2,672.5 1910.3,671.1 1911.6,670.4 1914.4,674.9 1923.9,675.5 1926.7,677.9" fill="#aaa9ad"/>
<rect x="1243.30" y="648.20" width="796.10" height="30.40" fill="none" stroke="#8c8c8c" stroke-width="1.3" />
<text x="1250.3" y="662.8" font-family="'Liberation Serif','Times New Roman',serif" font-size="11.2" font-weight="normal" text-anchor="start" fill="#111" >[0 - 40]</text>
<polygon points="1495.0,712.8 1495.3,706.3 1514.2,706.3 1514.4,711.4 1518.3,711.4 1518.5,706.3 1521.7,706.3 1521.7,712.8" fill="#aaa9ad"/>
<polygon points="1537.1,712.8 1537.4,711.4 1555.8,711.4 1555.8,712.8" fill="#aaa9ad"/>
<polygon points="1578.1,712.8 1578.4,706.6 1581.1,705.2 1587.9,705.2 1589.3,706.6 1592.7,706.6 1592.7,712.8" fill="#aaa9ad"/>
<polygon points="1605.0,712.8 1605.4,706.6 1606.4,710.7 1611.1,711.4 1612.5,709.3 1616.6,706.6 1622.1,705.5 1630.3,705.5 1631.6,706.6 1633.0,708.7 1635.7,706.6 1638.5,702.5 1642.6,701.8 1643.9,700.5 1646.7,699.8 1646.9,691.6 1649.4,689.5 1654.9,690.9 1657.6,690.2 1663.1,690.9 1665.8,691.6 1668.5,692.3 1674.0,692.3 1676.7,695.0 1679.5,693.6 1682.2,684.8 1684.9,688.9 1687.7,691.6 1691.7,693.6 1694.5,694.3 1695.8,695.4 1698.6,694.3 1700.6,704.6 1707.5,705.2 1707.5,712.8" fill="#aaa9ad"/>
<polygon points="1716.3,712.8 1716.6,704.6 1718.4,700.5 1720.4,698.7 1721.8,703.2 1724.5,702.2 1728.0,702.2 1729.3,691.6 1731.4,690.2 1734.8,692.3 1734.8,712.8" fill="#aaa9ad"/>
<polygon points="1806.4,712.8 1806.7,711.4 1824.9,711.4 1824.9,712.8" fill="#aaa9ad"/>
<polygon points="1843.3,712.8 1843.6,711.4 1862.5,711.4 1862.5,712.8" fill="#aaa9ad"/>
<polygon points="1869.0,712.8 1869.3,692.3 1872.0,696.4 1874.8,699.1 1877.5,699.8 1880.2,700.5 1880.9,696.4 1881.6,697.0 1883.6,704.6 1885.0,703.9 1885.4,698.4 1891.1,698.4 1892.5,696.4 1895.2,695.7 1896.6,684.1 1902.1,684.1 1903.4,689.5 1906.2,688.9 1908.9,686.1 1911.6,686.8 1914.4,688.9 1915.1,696.4 1917.1,701.8 1918.5,704.6 1923.9,705.2 1926.7,705.9 1935.5,706.6 1936.0,711.4 1942.4,712.1 1942.4,712.8" fill="#aaa9ad"/>
<rect x="1243.30" y="682.50" width="796.10" height="30.40" fill="none" stroke="#8c8c8c" stroke-width="1.3" />
<text x="1250.3" y="697.1" font-family="'Liberation Serif','Times New Roman',serif" font-size="11.2" font-weight="normal" text-anchor="start" fill="#111" >[0 - 30]</text>
<rect x="1243.30" y="717.10" width="796.10" height="30.40" fill="none" stroke="#8c8c8c" stroke-width="1.3" />
<text x="1250.3" y="731.7" font-family="'Liberation Serif','Times New Roman',serif" font-size="11.2" font-weight="normal" text-anchor="start" fill="#111" >[0 - 10.00]</text>
<rect x="1243.30" y="751.10" width="796.10" height="30.40" fill="none" stroke="#8c8c8c" stroke-width="1.3" />
<text x="1250.3" y="765.7" font-family="'Liberation Serif','Times New Roman',serif" font-size="11.2" font-weight="normal" text-anchor="start" fill="#111" >[0 - 10.00]</text>
<rect x="1243.30" y="783.30" width="796.10" height="30.40" fill="none" stroke="#8c8c8c" stroke-width="1.3" />
<text x="1250.3" y="797.9" font-family="'Liberation Serif','Times New Roman',serif" font-size="11.2" font-weight="normal" text-anchor="start" fill="#111" >[0 - 10.00]</text>
<rect x="1243.30" y="816.60" width="796.10" height="30.40" fill="none" stroke="#8c8c8c" stroke-width="1.3" />
<text x="1250.3" y="831.2" font-family="'Liberation Serif','Times New Roman',serif" font-size="11.2" font-weight="normal" text-anchor="start" fill="#111" >[0 - 10.00]</text>
<text x="1216.2" y="593.0" font-family="'Liberation Sans',Arial,sans-serif" font-size="22.9" font-weight="bold" text-anchor="end" fill="#000" >Mature Leaf</text>
<text x="1216.2" y="627.2" font-family="'Liberation Sans',Arial,sans-serif" font-size="22.9" font-weight="bold" text-anchor="end" fill="#000" >Panicle</text>
<text x="1216.2" y="661.4" font-family="'Liberation Sans',Arial,sans-serif" font-size="22.9" font-weight="bold" text-anchor="end" fill="#000" >Root</text>
<text x="1216.2" y="695.5" font-family="'Liberation Sans',Arial,sans-serif" font-size="22.9" font-weight="bold" text-anchor="end" fill="#000" >Young Leaf</text>
<text x="1216.2" y="730.2" font-family="'Liberation Sans',Arial,sans-serif" font-size="22.9" font-weight="bold" text-anchor="end" fill="#000" >Mature Leaf</text>
<text x="1216.2" y="764.4" font-family="'Liberation Sans',Arial,sans-serif" font-size="22.9" font-weight="bold" text-anchor="end" fill="#000" >Panicle</text>
<text x="1216.2" y="798.5" font-family="'Liberation Sans',Arial,sans-serif" font-size="22.9" font-weight="bold" text-anchor="end" fill="#000" >Root</text>
<text x="1216.2" y="832.7" font-family="'Liberation Sans',Arial,sans-serif" font-size="22.9" font-weight="bold" text-anchor="end" fill="#000" >Young Leaf</text>
<line x1="1075.00" y1="581.50" x2="1075.00" y2="687.00" stroke="#000" stroke-width="2.6"/>
<line x1="1075.00" y1="712.60" x2="1075.00" y2="817.60" stroke="#000" stroke-width="2.6"/>
<text transform="translate(1053.7,624.9) rotate(-90)" font-family="'Liberation Sans',Arial,sans-serif" font-size="22.9" font-weight="bold" text-anchor="middle">Nipp.</text>
<text transform="translate(1053.7,791.5) rotate(-90)" font-family="'Liberation Sans',Arial,sans-serif" font-size="22.9" font-weight="bold" text-anchor="middle"><tspan font-family="'Liberation Serif','Times New Roman',serif" font-style="italic" font-weight="bold" font-size="24">Os</tspan> vg. Minghui 63</text>
<rect x="1444.90" y="113.20" width="1.20" height="2.80" fill="#e0a040" stroke="none" stroke-width="1" />
<rect x="1446.60" y="113.20" width="1.20" height="2.80" fill="#70b060" stroke="none" stroke-width="1" />
<rect x="1787.60" y="675.50" width="1.20" height="3.00" fill="#d04030" stroke="none" stroke-width="1" />
<rect x="1787.60" y="673.50" width="1.20" height="2.00" fill="#40a040" stroke="none" stroke-width="1" />
<rect x="1788.30" y="675.00" width="1.20" height="3.50" fill="#3050c0" stroke="none" stroke-width="1" />
<rect x="1634.90" y="641.50" width="1.20" height="2.00" fill="#3050c0" stroke="none" stroke-width="1" />
<rect x="1588.70" y="707.50" width="1.20" height="4.70" fill="#d04030" stroke="none" stroke-width="1" />
<rect x="1588.70" y="711.00" width="1.20" height="1.50" fill="#3050c0" stroke="none" stroke-width="1" />
<rect x="1735.90" y="607.50" width="1.20" height="1.30" fill="#e09040" stroke="none" stroke-width="1" />
<rect x="1925.90" y="676.50" width="1.20" height="1.50" fill="#3050c0" stroke="none" stroke-width="1" />
<rect x="1240.00" y="861.30" width="802.60" height="15.00" fill="#303399" stroke="none" stroke-width="1" />
<rect x="1590.20" y="857.80" width="4.90" height="21.90" fill="#303399" stroke="none" stroke-width="1" />
<rect x="1606.80" y="857.80" width="101.50" height="21.90" fill="#303399" stroke="none" stroke-width="1" />
<rect x="1717.70" y="857.80" width="17.90" height="21.90" fill="#303399" stroke="none" stroke-width="1" />
<rect x="1868.70" y="857.80" width="38.20" height="21.90" fill="#303399" stroke="none" stroke-width="1" />
<path d="M1598.00,867.10 L1600.00,870.50 L1598.00,873.90" fill="none" stroke="#fff" stroke-width="1.25"/>
<path d="M1618.04,867.10 L1620.04,870.50 L1618.04,873.90" fill="none" stroke="#fff" stroke-width="1.25"/>
<path d="M1638.08,867.10 L1640.08,870.50 L1638.08,873.90" fill="none" stroke="#fff" stroke-width="1.25"/>
<path d="M1658.12,867.10 L1660.12,870.50 L1658.12,873.90" fill="none" stroke="#fff" stroke-width="1.25"/>
<path d="M1678.16,867.10 L1680.16,870.50 L1678.16,873.90" fill="none" stroke="#fff" stroke-width="1.25"/>
<path d="M1698.20,867.10 L1700.20,870.50 L1698.20,873.90" fill="none" stroke="#fff" stroke-width="1.25"/>
<path d="M1718.24,867.10 L1720.24,870.50 L1718.24,873.90" fill="none" stroke="#fff" stroke-width="1.25"/>
<path d="M1738.28,867.10 L1740.28,870.50 L1738.28,873.90" fill="none" stroke="#fff" stroke-width="1.25"/>
<path d="M1758.32,867.10 L1760.32,870.50 L1758.32,873.90" fill="none" stroke="#fff" stroke-width="1.25"/>
<path d="M1778.36,867.10 L1780.36,870.50 L1778.36,873.90" fill="none" stroke="#fff" stroke-width="1.25"/>
<path d="M1798.40,867.10 L1800.40,870.50 L1798.40,873.90" fill="none" stroke="#fff" stroke-width="1.25"/>
<path d="M1818.44,867.10 L1820.44,870.50 L1818.44,873.90" fill="none" stroke="#fff" stroke-width="1.25"/>
<path d="M1838.48,867.10 L1840.48,870.50 L1838.48,873.90" fill="none" stroke="#fff" stroke-width="1.25"/>
<path d="M1858.52,867.10 L1860.52,870.50 L1858.52,873.90" fill="none" stroke="#fff" stroke-width="1.25"/>
<path d="M1878.56,867.10 L1880.56,870.50 L1878.56,873.90" fill="none" stroke="#fff" stroke-width="1.25"/>
<path d="M1898.60,867.10 L1900.60,870.50 L1898.60,873.90" fill="none" stroke="#fff" stroke-width="1.25"/>
<path d="M1918.64,867.10 L1920.64,870.50 L1918.64,873.90" fill="none" stroke="#fff" stroke-width="1.25"/>
<polygon points="1291.20,897.40 1568.80,897.40 1575.20,908.35 1568.80,919.30 1291.20,919.30 1288.80,916.90 1288.80,899.80" fill="#00a0d0" stroke="none" stroke-width="1" />
<polygon points="1292.28,900.00 1567.31,900.00 1572.19,908.35 1567.31,916.70 1292.28,916.70 1291.40,915.82 1291.40,900.88" fill="#fff" stroke="none" stroke-width="1" />
<polygon points="1585.40,896.40 1608.80,908.50 1585.40,920.60" fill="#868686" stroke="none" stroke-width="1" />
<polygon points="1588.80,901.99 1601.40,908.50 1588.80,915.01" fill="url(#gTr)" stroke="none" stroke-width="1" />
<polygon points="1612.30,896.20 1702.40,896.20 1711.80,908.70 1702.40,921.20 1612.30,921.20 1607.80,916.70 1607.80,900.70" fill="url(#gC)" stroke="none" stroke-width="1" />
<polygon points="1613.79,899.80 1700.60,899.80 1707.30,908.70 1700.60,917.60 1613.79,917.60 1611.40,915.21 1611.40,902.19" fill="#fff" stroke="none" stroke-width="1" />
<text x="1659.0" y="914.4" font-family="'Liberation Serif','Times New Roman',serif" font-size="22" font-weight="bold" text-anchor="middle" fill="#000" >Fbox</text>
<polygon points="1721.60,896.20 1727.80,896.20 1738.50,908.70 1727.80,921.20 1721.60,921.20 1717.10,916.70 1717.10,900.70" fill="url(#gC)" stroke="none" stroke-width="1" />
<polygon points="1723.09,899.80 1726.14,899.80 1733.76,908.70 1726.14,917.60 1723.09,917.60 1720.70,915.21 1720.70,902.19" fill="#fff" stroke="none" stroke-width="1" />
<polygon points="1871.40,896.20 1898.50,896.20 1907.70,908.70 1898.50,921.20 1871.40,921.20 1866.90,916.70 1866.90,900.70" fill="url(#gC)" stroke="none" stroke-width="1" />
<polygon points="1872.89,899.80 1896.68,899.80 1903.23,908.70 1896.68,917.60 1872.89,917.60 1870.50,915.21 1870.50,902.19" fill="#fff" stroke="none" stroke-width="1" />
<polygon points="1914.20,896.20 1937.60,896.20 1947.30,908.70 1937.60,921.20 1914.20,921.20 1911.20,918.20 1911.20,899.20" fill="#868686" stroke="none" stroke-width="1" />
<polygon points="1915.65,899.70 1935.89,899.70 1942.87,908.70 1935.89,917.70 1915.65,917.70 1914.70,916.75 1914.70,900.65" fill="url(#gV)" stroke="none" stroke-width="1" />
<text x="1690.0" y="944.0" font-family="'Liberation Serif','Times New Roman',serif" font-size="22.3" font-weight="bold" text-anchor="middle" fill="#000" >Os11g0532600</text>
<rect x="1518.60" y="1017.00" width="20.40" height="21.80" fill="#fff" stroke="#00a0d0" stroke-width="2.5" />
<text x="1555.2" y="1037.3" font-family="'Liberation Serif','Times New Roman',serif" font-size="29.7" font-weight="bold" text-anchor="start" fill="#000" >Promoter</text>
<polygon points="1520.40,1055.20 1535.50,1055.20 1543.50,1067.70 1535.50,1080.20 1520.40,1080.20 1517.40,1077.20 1517.40,1058.20" fill="#868686" stroke="none" stroke-width="1" />
<polygon points="1521.64,1058.20 1533.86,1058.20 1539.94,1067.70 1533.86,1077.20 1521.64,1077.20 1520.40,1075.96 1520.40,1059.44" fill="url(#gV)" stroke="none" stroke-width="1" />
<text x="1555.2" y="1075.4" font-family="'Liberation Serif','Times New Roman',serif" font-size="29.7" font-weight="bold" text-anchor="start" fill="#000" >UTR</text>
<polygon points="1520.40,1092.80 1533.20,1092.80 1540.20,1104.60 1533.20,1116.40 1520.40,1116.40 1517.40,1113.40 1517.40,1095.80" fill="url(#gC)" stroke="none" stroke-width="1" />
<polygon points="1521.64,1095.80 1531.49,1095.80 1536.71,1104.60 1531.49,1113.40 1521.64,1113.40 1520.40,1112.16 1520.40,1097.04" fill="#fff" stroke="none" stroke-width="1" />
<text x="1555.2" y="1113.0" font-family="'Liberation Serif','Times New Roman',serif" font-size="29.7" font-weight="bold" text-anchor="start" fill="#000" >CDS</text>
<rect x="1715.30" y="978.90" width="60.90" height="27.10" fill="#bcbcbc" stroke="#888" stroke-width="3" />
<text x="1791.2" y="1000.2" font-family="'Liberation Serif','Times New Roman',serif" font-size="22.5" font-weight="bold" text-anchor="start" fill="#000" >Synteny region</text>
<rect x="1715.30" y="1016.50" width="60.90" height="26.80" fill="#f8f0a2" stroke="#888" stroke-width="3" />
<text x="1791.2" y="1037.3" font-family="'Liberation Serif','Times New Roman',serif" font-size="22.5" font-weight="bold" text-anchor="start" fill="#000" >Inverted region</text>
<rect x="1715.30" y="1054.10" width="60.90" height="26.70" fill="#97a5d3" stroke="#888" stroke-width="3" />
<text x="1791.2" y="1074.0" font-family="'Liberation Serif','Times New Roman',serif" font-size="22.5" font-weight="bold" text-anchor="start" fill="#000" >Inverted region on genes</text>
<rect x="1715.30" y="1091.60" width="60.90" height="27.10" fill="#e6e6e6" stroke="#888" stroke-width="3" />
<text x="1791.2" y="1111.0" font-family="'Liberation Serif','Times New Roman',serif" font-size="22.5" font-weight="bold" text-anchor="start" fill="#000" >Divergent region</text>
</svg>
</body></html>
